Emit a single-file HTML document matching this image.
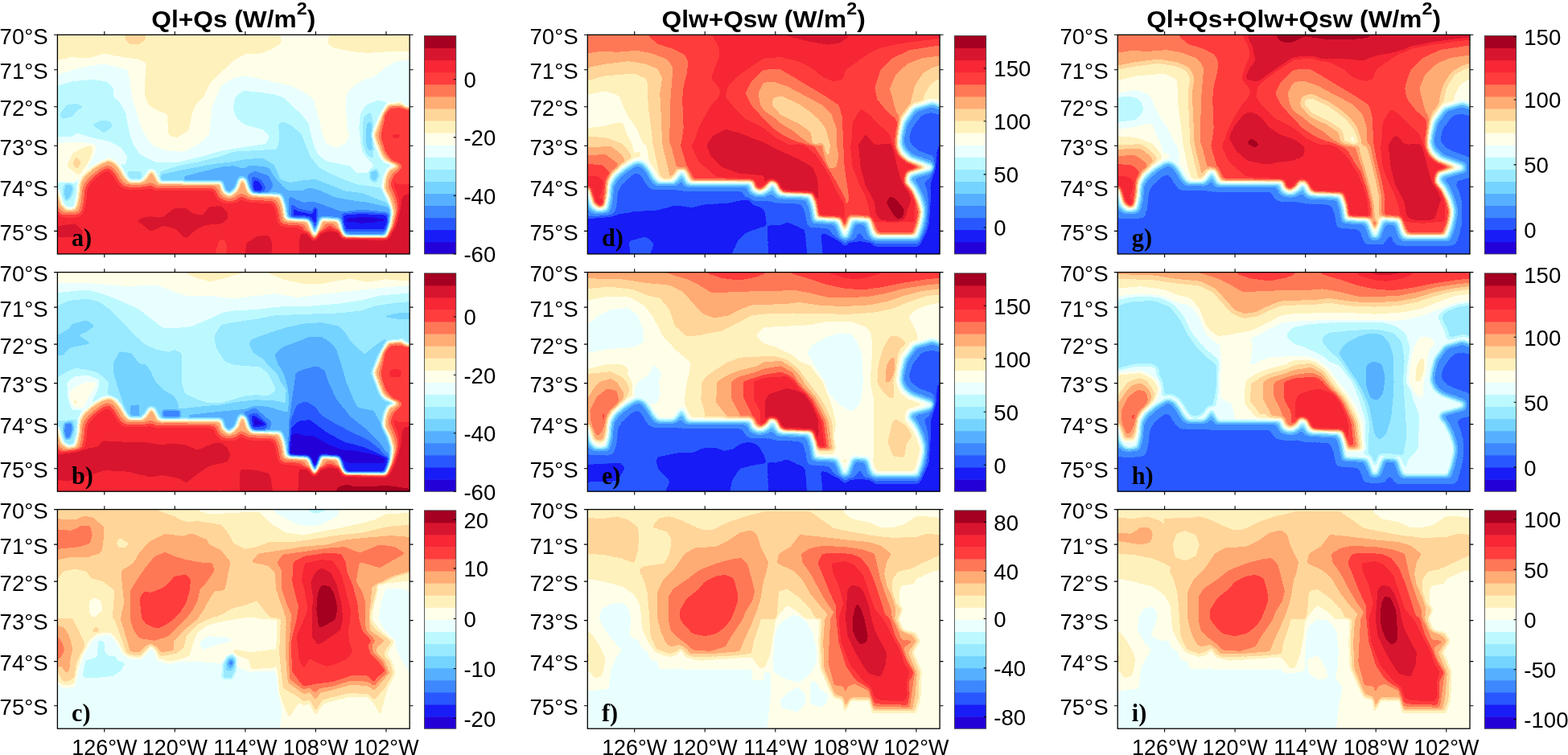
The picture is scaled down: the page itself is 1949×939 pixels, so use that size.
<!DOCTYPE html>
<html lang="en"><head><meta charset="utf-8"><title>Surface heat flux maps</title>
<style>
html,body{margin:0;padding:0;background:#fff;}
body{width:1949px;height:939px;overflow:hidden;}
svg{display:block;}
text{font-family:"Liberation Sans",sans-serif;fill:#000;}
.tk{font-size:28.5px;}
.ti{font-size:29.2px;font-weight:bold;}
.pl{font-family:"Liberation Serif",serif;font-weight:bold;font-size:31.5px;}
.ax{fill:none;stroke:#000;stroke-width:1.3;}
.tm{stroke:#000;stroke-width:1.1;fill:none;}
</style></head><body>
<svg width="1949" height="939" viewBox="0 0 1949 939" role="img" aria-label="Surface heat flux maps">
<defs>
<filter id="cm" filterUnits="userSpaceOnUse" x="-10" y="-10" width="460" height="300" color-interpolation-filters="sRGB">
<feComponentTransfer><feFuncR type="discrete" tableValues="0.1412 0.0941 0.1569 0.2392 0.3373 0.4588 0.6000 0.7373 0.9176 1.0000 1.0000 1.0000 1.0000 1.0000 1.0000 0.9686 0.8471 0.6471"/><feFuncG type="discrete" tableValues="0.0000 0.1098 0.3412 0.5294 0.6902 0.8275 0.9176 0.9765 1.0000 1.0000 0.9451 0.8392 0.6745 0.4706 0.2392 0.1529 0.0824 0.0000"/><feFuncB type="discrete" tableValues="0.8471 0.9686 1.0000 1.0000 1.0000 1.0000 1.0000 1.0000 1.0000 0.9176 0.7373 0.6000 0.4588 0.3373 0.2392 0.2078 0.1843 0.1294"/></feComponentTransfer><feGaussianBlur stdDeviation="0.55"/>
</filter>
<filter id="b1p6_e0" filterUnits="userSpaceOnUse" x="-60" y="-60" width="560" height="400" color-interpolation-filters="sRGB"><feGaussianBlur stdDeviation="1.6"/></filter>
<filter id="b2p0_e0" filterUnits="userSpaceOnUse" x="-60" y="-60" width="560" height="400" color-interpolation-filters="sRGB"><feGaussianBlur stdDeviation="2.0"/></filter>
<filter id="b2p2_e-2" filterUnits="userSpaceOnUse" x="-60" y="-60" width="560" height="400" color-interpolation-filters="sRGB"><feMorphology operator="dilate" radius="2"/><feGaussianBlur stdDeviation="2.2"/></filter>
<filter id="b2p2_e0" filterUnits="userSpaceOnUse" x="-60" y="-60" width="560" height="400" color-interpolation-filters="sRGB"><feGaussianBlur stdDeviation="2.2"/></filter>
<filter id="b2p2_e2" filterUnits="userSpaceOnUse" x="-60" y="-60" width="560" height="400" color-interpolation-filters="sRGB"><feMorphology operator="erode" radius="2"/><feGaussianBlur stdDeviation="2.2"/></filter>
<filter id="b2p4_e0" filterUnits="userSpaceOnUse" x="-60" y="-60" width="560" height="400" color-interpolation-filters="sRGB"><feGaussianBlur stdDeviation="2.4"/></filter>
<filter id="b2p5_e5" filterUnits="userSpaceOnUse" x="-60" y="-60" width="560" height="400" color-interpolation-filters="sRGB"><feMorphology operator="erode" radius="5"/><feGaussianBlur stdDeviation="2.5"/></filter>
<filter id="b3p0_e11" filterUnits="userSpaceOnUse" x="-60" y="-60" width="560" height="400" color-interpolation-filters="sRGB"><feMorphology operator="erode" radius="11"/><feGaussianBlur stdDeviation="3.0"/></filter>
<filter id="b3p0_e12" filterUnits="userSpaceOnUse" x="-60" y="-60" width="560" height="400" color-interpolation-filters="sRGB"><feMorphology operator="erode" radius="12"/><feGaussianBlur stdDeviation="3.0"/></filter>
<filter id="b3p0_e13" filterUnits="userSpaceOnUse" x="-60" y="-60" width="560" height="400" color-interpolation-filters="sRGB"><feMorphology operator="erode" radius="13"/><feGaussianBlur stdDeviation="3.0"/></filter>
<filter id="b3p6_e7" filterUnits="userSpaceOnUse" x="-60" y="-60" width="560" height="400" color-interpolation-filters="sRGB"><feMorphology operator="erode" radius="7"/><feGaussianBlur stdDeviation="3.6"/></filter>
</defs>
<rect width="1949" height="939" fill="#fff"/>
<!-- panel a -->
<svg class="map" x="71.4" y="43.3" width="437.8" height="272.6" viewBox="0 0 437.8 272.6" overflow="hidden">
<g filter="url(#cm)">
<rect x="-60" y="-60" width="560" height="400" fill="#878787"/>
<g filter="url(#b1p6_e0)">
<path fill="#959595" d="M-14.5,-14.5L274.7,-14.5L278.5,10.2L266.9,17.4L252.4,23.3L233.5,23.8L218.9,32.0L203.5,46.5L189.0,61.1L181.7,77.0L171.5,87.2L167.2,98.8L162.8,119.2L148.3,127.9L138.1,125.0L136.6,98.8L125.0,94.5L113.4,87.2L109.0,77.0L109.0,58.1L110.5,34.9L101.8,30.5L81.4,27.6L58.1,23.3L37.8,29.1L17.4,27.6L-14.5,34.9Z"/>
<path fill="#959595" d="M341.6,-14.5L335.8,10.8L342.5,16.0L364.3,20.4L386.1,22.7L407.9,20.9L465.2,20.4L465.2,-14.5Z"/>
<path fill="#a3a3a3" d="M82.9,-14.5L111.9,-14.5L109.0,5.8L101.8,11.6L90.1,11.6L84.3,5.8Z"/>
<path fill="#787878" d="M-14.5,50.9L0.0,49.4L29.1,40.7L58.1,36.3L87.2,43.6L90.1,58.1L93.0,78.5L98.8,98.8L104.7,116.3L110.5,127.9L119.2,138.1L136.6,143.9L157.0,145.4L174.4,136.6L189.0,123.6L191.9,90.1L203.5,64.0L218.9,53.8L233.5,50.9L262.5,57.3L291.6,64.0L306.1,71.2L317.8,79.1L320.7,90.1L325.0,104.7L329.4,123.6L333.8,135.2L346.0,141.0L358.5,135.2L362.8,125.0L359.9,113.4L358.5,87.2L359.1,75.6L364.3,66.9L378.8,56.7L393.4,52.3L407.9,40.7L422.4,32.6L465.2,29.1L465.2,305.3L-14.5,305.3Z"/>
<path fill="#6a6a6a" d="M-14.5,65.4L0.0,64.0L17.4,58.1L43.6,55.8L61.1,58.1L69.8,66.9L69.8,78.5L75.6,81.4L84.3,95.9L87.2,110.5L90.1,125.0L94.5,136.6L101.8,148.3L122.1,158.5L151.2,158.5L180.3,151.2L203.5,144.5L232.6,139.6L259.6,135.8L264.0,125.6L255.3,117.7L233.5,111.9L223.3,104.7L218.9,93.0L219.5,82.9L221.8,77.0L230.6,69.8L248.0,71.2L269.8,74.1L281.4,78.5L291.6,88.7L303.2,98.8L312.0,110.5L314.9,123.6L317.8,135.2L323.6,148.9L335.2,157.6L364.3,163.4L371.6,172.1L386.1,172.1L393.4,161.9L386.1,154.7L378.8,144.5L377.4,135.8L375.0,116.3L376.5,98.8L383.8,87.2L398.3,81.4L412.8,84.3L465.2,87.2L465.2,305.3L-14.5,305.3Z"/>
<path fill="#787878" d="M-14.5,126.5L0.0,126.5L17.4,126.5L24.7,122.1L43.6,127.9L64.0,132.3L78.5,139.6L87.2,151.2L84.3,162.8L72.7,158.5L58.1,154.1L43.6,162.8L29.1,180.3L-14.5,186.1Z"/>
<path fill="#878787" d="M-14.5,135.2L17.4,133.7L34.9,134.3L48.0,136.6L46.5,148.3L36.3,165.7L27.6,178.8L17.4,186.1L5.8,181.7L-14.5,186.1Z"/>
<path fill="#959595" d="M11.6,163.4L18.9,147.4L29.1,141.6L42.2,137.2L43.6,144.5L40.7,154.7L34.9,164.8L26.2,175.0L17.4,167.8Z"/>
<path fill="#a3a3a3" d="M18.9,160.5L23.3,151.8L29.1,157.6L24.7,167.8Z"/>
<path fill="#4e4e4e" d="M8.7,186.1L17.4,183.7L19.8,191.9L16.0,203.5L10.2,207.0L7.3,197.7Z"/>
<path fill="#5c5c5c" d="M2.9,98.8L11.6,87.2L23.3,85.8L33.4,89.5L24.7,93.0L18.9,101.8L5.8,104.7Z"/>
<path fill="#5c5c5c" d="M43.6,111.9L55.2,106.1L65.4,107.6L68.3,113.4L58.1,122.1L49.4,116.3Z"/>
<path fill="#5c5c5c" d="M87.2,170.1L104.7,170.1L104.7,186.1L87.2,186.1Z"/>
<path fill="#5c5c5c" d="M127.9,170.1L151.2,162.8L174.4,158.5L203.5,151.2L218.9,145.4L247.1,143.9L273.3,142.5L276.2,127.9L274.7,111.9L280.0,107.6L291.6,113.4L303.2,123.6L308.2,136.6L314.0,151.2L325.6,165.7L348.9,177.3L372.1,186.1L392.5,189.0L405.0,191.0L415.8,203.5L415.8,261.7L127.9,261.7Z"/>
<path fill="#4e4e4e" d="M127.9,173.9L151.2,168.6L174.4,164.3L197.7,159.9L218.9,157.6L233.5,154.7L255.3,153.2L269.8,161.9L277.1,179.4L288.7,183.7L306.1,180.8L320.7,179.4L335.2,185.2L357.0,193.9L378.8,196.8L400.6,205.5L415.8,211.4L415.8,261.7L127.9,261.7Z"/>
<path fill="#404040" d="M157.0,175.9L174.4,171.5L203.5,164.3L218.9,162.8L230.6,166.3L240.7,161.9L262.5,164.8L269.8,176.5L280.0,188.1L287.2,193.9L303.2,193.9L313.4,189.6L327.9,193.9L342.5,201.2L364.3,205.5L386.1,208.5L405.0,212.8L415.8,215.1L415.8,261.7L157.0,261.7Z"/>
<path fill="#323232" d="M236.4,173.6L245.1,169.2L262.5,175.0L268.9,187.5L261.7,197.7L242.2,197.7L236.9,186.1Z"/>
<path fill="#323232" d="M287.8,200.6L306.1,208.5L317.8,207.0L342.5,215.7L354.1,220.1L378.8,217.2L407.9,220.1L415.8,223.9L415.8,261.7L287.8,261.7Z"/>
<path fill="#1c1c1c" d="M242.2,176.5L252.4,180.8L258.8,190.4L252.9,197.7L243.6,195.4Z"/>
<path fill="#1c1c1c" d="M290.7,210.8L299.5,216.6L319.8,221.0L319.8,232.6L290.7,232.6Z"/>
<path fill="#1c1c1c" d="M354.1,222.4L378.0,221.0L409.4,222.4L412.8,232.6L409.4,244.2L355.6,244.2Z"/>
<path fill="#0e0e0e" d="M243.6,183.2L248.6,184.6L250.6,191.9L244.2,192.5Z"/>
<path fill="#0e0e0e" d="M356.2,226.2L378.0,224.4L408.5,226.2L408.5,234.0L378.0,236.1L357.0,234.9Z"/>
<path fill="#0e0e0e" d="M318.4,215.7L322.1,215.7L321.6,235.5L319.8,241.3Z"/>
<path fill="#060606" d="M373.6,228.5L392.5,227.9L393.9,232.0L375.0,232.6Z"/>
<path fill="#5c5c5c" d="M380.9,101.8L389.6,95.9L392.5,110.5L391.0,125.0L392.5,139.6L392.5,154.1L383.8,148.3L379.4,133.7L379.4,116.3Z"/>
<path fill="#474747" d="M385.2,110.5L389.6,107.6L391.0,125.0L391.0,145.4L385.2,139.6L383.8,125.0Z"/>
<path fill="#4e4e4e" d="M388.1,170.1L396.9,167.2L399.8,174.4L395.4,183.7L389.0,180.3Z"/>
</g>
<g filter="url(#b2p2_e0)">
<path fill="#b1b1b1" d="M-23.3,189.0L0.0,192.5L5.8,211.4L13.1,217.2L21.8,215.7L25.6,201.2L27.0,183.7L32.0,175.0L43.6,164.8L55.2,157.6L64.0,154.7L72.7,159.0L78.5,166.3L84.3,176.5L90.1,182.3L104.7,182.3L110.5,176.5L114.8,169.2L119.2,169.2L123.6,177.9L126.5,183.7L203.5,183.7L206.4,193.9L213.7,199.7L222.4,191.9L227.6,177.9L233.5,180.8L237.8,193.9L242.2,198.3L277.1,199.7L281.4,211.4L284.3,228.8L312.0,230.3L316.3,240.4L319.8,250.6L323.6,240.4L327.9,228.8L349.8,230.3L354.1,244.8L358.5,250.6L407.9,250.6L412.8,237.5L416.6,220.1L412.3,205.5L405.0,191.0L407.0,177.3L411.4,167.2L423.0,162.2L407.0,157.0L402.1,150.3L396.9,136.6L392.5,125.0L400.6,104.7L410.8,85.8L429.7,84.9L436.1,110.5L465.2,116.3L465.2,305.3L-23.3,305.3Z"/>
</g>
<g filter="url(#b3p6_e7)">
<path fill="#dcdcdc" d="M-23.3,189.0L0.0,192.5L5.8,211.4L13.1,217.2L21.8,215.7L25.6,201.2L27.0,183.7L32.0,175.0L43.6,164.8L55.2,157.6L64.0,154.7L72.7,159.0L78.5,166.3L84.3,176.5L90.1,182.3L104.7,182.3L110.5,176.5L114.8,169.2L119.2,169.2L123.6,177.9L126.5,183.7L203.5,183.7L206.4,193.9L213.7,199.7L222.4,191.9L227.6,177.9L233.5,180.8L237.8,193.9L242.2,198.3L277.1,199.7L281.4,211.4L284.3,228.8L312.0,230.3L316.3,240.4L319.8,250.6L323.6,240.4L327.9,228.8L349.8,230.3L354.1,244.8L358.5,250.6L407.9,250.6L412.8,237.5L416.6,220.1L412.3,205.5L405.0,191.0L407.0,177.3L411.4,167.2L423.0,162.2L407.0,157.0L402.1,150.3L396.9,136.6L392.5,125.0L400.6,104.7L410.8,85.8L429.7,84.9L436.1,110.5L465.2,116.3L465.2,305.3L-23.3,305.3Z"/>
</g>
<g filter="url(#b2p0_e0)">
<path fill="#cdcdcd" d="M405.6,98.8L412.8,90.7L428.8,89.5L465.2,93.0L465.2,186.1L421.6,186.1L418.7,174.4L430.3,162.8L415.8,158.5L407.0,145.4L402.7,127.9Z"/>
<path fill="#dcdcdc" d="M415.2,123.6L426.8,123.6L426.8,128.5L415.2,128.5Z"/>
<path fill="#eaeaea" d="M97.4,230.3L113.4,225.9L130.8,227.4L145.4,215.7L159.9,215.7L168.6,223.0L181.7,224.4L187.5,214.3L203.5,212.8L210.8,220.1L212.2,228.8L203.5,234.6L186.1,236.1L174.4,240.4L159.9,253.5L145.4,240.4L130.8,237.5L116.3,244.8L107.6,237.5Z"/>
<path fill="#eaeaea" d="M-14.5,240.4L21.8,234.6L33.4,246.3L29.1,250.6L-14.5,252.1Z"/>
<path fill="#eaeaea" d="M233.5,276.2L234.9,259.3L248.0,250.6L262.5,249.2L266.9,259.3L265.4,276.2Z"/>
<path fill="#eaeaea" d="M300.3,276.2L301.8,246.3L312.0,246.3L319.2,256.4L326.5,244.8L349.8,243.3L354.1,252.1L409.4,253.5L419.5,237.5L425.3,217.2L429.7,199.7L465.2,191.9L465.2,276.2Z"/>
<path fill="#cdcdcd" d="M194.8,276.2L200.6,255.8L206.4,253.5L210.8,261.7L209.3,276.2Z"/>
</g>
</g>
</svg>
<rect class="ax" x="71.4" y="43.3" width="437.8" height="272.6"/>
<path class="tm" d="M129.8,43.3 v-4.4 M129.8,315.9 v4.4 M217.3,43.3 v-4.4 M217.3,315.9 v4.4 M304.9,43.3 v-4.4 M304.9,315.9 v4.4 M392.4,43.3 v-4.4 M392.4,315.9 v4.4 M480.0,43.3 v-4.4 M480.0,315.9 v4.4 M71.4,43.3 h-4.4 M509.2,43.3 h4.4 M71.4,86.8 h-4.4 M509.2,86.8 h4.4 M71.4,132.8 h-4.4 M509.2,132.8 h4.4 M71.4,181.3 h-4.4 M509.2,181.3 h4.4 M71.4,232.3 h-4.4 M509.2,232.3 h4.4 M71.4,287.4 h-4.4 M509.2,287.4 h4.4 "/>
<text class="tk" transform="translate(59.8 54.9) scale(0.97 1)" text-anchor="end">70°S</text>
<text class="tk" transform="translate(59.8 98.4) scale(0.97 1)" text-anchor="end">71°S</text>
<text class="tk" transform="translate(59.8 144.4) scale(0.97 1)" text-anchor="end">72°S</text>
<text class="tk" transform="translate(59.8 192.9) scale(0.97 1)" text-anchor="end">73°S</text>
<text class="tk" transform="translate(59.8 243.9) scale(0.97 1)" text-anchor="end">74°S</text>
<text class="tk" transform="translate(59.8 299.0) scale(0.97 1)" text-anchor="end">75°S</text>
<text class="ti" transform="translate(290.3 33.9) scale(1.085 1)" text-anchor="middle">Ql+Qs (W/m<tspan dy="-16.2" font-size="21.5px">2</tspan><tspan dy="16.2">)</tspan></text>
<text class="pl" transform="translate(89.0 306.3) scale(0.96 1)">a)</text>
<rect x="527.5" y="300.83" width="39.3" height="15.07" fill="rgb(36,0,216)"/>
<rect x="527.5" y="285.76" width="39.3" height="15.47" fill="rgb(24,28,247)"/>
<rect x="527.5" y="270.68" width="39.3" height="15.47" fill="rgb(40,87,255)"/>
<rect x="527.5" y="255.61" width="39.3" height="15.47" fill="rgb(61,135,255)"/>
<rect x="527.5" y="240.54" width="39.3" height="15.47" fill="rgb(86,176,255)"/>
<rect x="527.5" y="225.47" width="39.3" height="15.47" fill="rgb(117,211,255)"/>
<rect x="527.5" y="210.39" width="39.3" height="15.47" fill="rgb(153,234,255)"/>
<rect x="527.5" y="195.32" width="39.3" height="15.47" fill="rgb(188,249,255)"/>
<rect x="527.5" y="180.25" width="39.3" height="15.47" fill="rgb(234,255,255)"/>
<rect x="527.5" y="165.18" width="39.3" height="15.47" fill="rgb(255,255,234)"/>
<rect x="527.5" y="150.11" width="39.3" height="15.47" fill="rgb(255,241,188)"/>
<rect x="527.5" y="135.03" width="39.3" height="15.47" fill="rgb(255,214,153)"/>
<rect x="527.5" y="119.96" width="39.3" height="15.47" fill="rgb(255,172,117)"/>
<rect x="527.5" y="104.89" width="39.3" height="15.47" fill="rgb(255,120,86)"/>
<rect x="527.5" y="89.82" width="39.3" height="15.47" fill="rgb(255,61,61)"/>
<rect x="527.5" y="74.74" width="39.3" height="15.47" fill="rgb(247,39,53)"/>
<rect x="527.5" y="59.67" width="39.3" height="15.47" fill="rgb(216,21,47)"/>
<rect x="527.5" y="44.60" width="39.3" height="15.47" fill="rgb(165,0,33)"/>
<rect x="527.5" y="44.6" width="39.3" height="271.3" fill="none" stroke="#333" stroke-width="0.8"/>
<text class="tk" transform="translate(576.4 109.1) scale(0.97 1)">0</text>
<text class="tk" transform="translate(576.4 181.3) scale(0.97 1)">-20</text>
<text class="tk" transform="translate(576.4 253.8) scale(0.97 1)">-40</text>
<text class="tk" transform="translate(576.4 326.3) scale(0.97 1)">-60</text>
<path class="tm" d="M566.8,98.7 h-3 M566.8,170.9 h-3 M566.8,243.4 h-3 M566.8,315.9 h-3 "/>
<!-- panel b -->
<svg class="map" x="71.4" y="338.6" width="437.8" height="272.6" viewBox="0 0 437.8 272.6" overflow="hidden">
<g filter="url(#cm)">
<rect x="-60" y="-60" width="560" height="400" fill="#878787"/>
<g filter="url(#b1p6_e0)">
<path fill="#959595" d="M157.0,-14.5L159.9,1.5L174.4,7.3L189.0,11.6L203.5,8.7L218.1,4.4L232.6,0.0L247.1,-14.5Z"/>
<path fill="#959595" d="M258.8,-14.5L262.5,1.5L284.3,10.2L306.1,14.5L327.9,14.5L349.8,10.2L364.3,8.1L386.1,12.2L407.9,8.7L437.0,11.0L465.2,11.6L465.2,-14.5Z"/>
<path fill="#787878" d="M-14.5,13.1L0.0,13.1L43.6,14.0L87.2,17.4L123.6,16.0L145.4,24.7L159.9,29.1L189.0,29.1L218.9,32.6L248.0,29.1L269.8,26.7L298.9,31.4L335.2,26.7L378.8,21.8L407.9,18.9L465.2,14.5L465.2,305.3L-14.5,305.3Z"/>
<path fill="#6a6a6a" d="M-14.5,26.2L0.0,25.6L36.3,21.8L58.1,27.6L80.0,36.3L101.8,46.5L116.3,58.1L130.8,69.2L145.4,69.8L167.2,67.5L189.0,58.1L203.5,50.9L218.9,48.0L248.0,46.5L277.1,43.0L306.1,43.0L349.8,39.2L378.8,34.9L400.6,29.1L465.2,23.3L465.2,305.3L-14.5,305.3Z"/>
<path fill="#5c5c5c" d="M-14.5,42.2L0.0,42.2L14.5,35.5L36.3,33.4L50.9,36.3L65.4,46.5L80.0,61.1L94.5,77.0L109.0,90.1L123.6,96.5L138.1,99.4L145.4,96.5L154.1,100.3L154.7,116.3L154.1,136.6L158.5,151.2L174.4,158.5L189.0,162.8L203.5,162.8L218.1,158.5L232.6,154.1L247.1,152.6L261.7,154.1L271.8,146.8L267.5,136.6L262.5,126.5L252.4,117.7L233.5,116.3L218.9,114.8L207.9,110.5L197.7,94.5L194.8,80.0L203.5,65.4L218.9,62.5L248.0,58.1L269.8,53.8L306.1,52.3L349.8,50.9L378.8,48.0L393.4,42.2L422.4,37.8L465.2,34.9L465.2,305.3L-14.5,305.3Z"/>
<path fill="#4e4e4e" d="M-14.5,78.5L0.0,78.5L14.5,69.8L18.9,64.0L36.3,59.6L46.5,66.3L36.3,74.1L26.2,78.5L42.2,88.7L21.8,93.0L14.5,94.5L7.3,103.2L-14.5,104.7Z"/>
<path fill="#4e4e4e" d="M69.8,111.9L77.0,98.3L91.6,100.3L101.8,113.4L110.5,114.8L116.3,123.6L122.1,136.6L130.8,145.4L145.4,154.1L151.2,165.7L145.4,174.4L127.9,186.1L87.2,186.1L81.4,162.8L75.6,145.4L69.8,126.5Z"/>
<path fill="#4e4e4e" d="M237.8,88.7L242.2,82.9L262.5,75.6L284.3,68.3L306.1,64.0L327.9,62.5L349.8,66.9L358.5,75.6L364.3,85.8L381.7,101.8L396.3,90.1L406.4,82.9L424.5,81.4L424.5,261.7L127.9,261.7L127.9,173.0L151.2,170.1L174.4,167.2L203.5,164.3L221.0,161.4L247.1,158.5L273.3,159.9L283.5,162.8L284.3,145.4L277.1,136.6L274.2,127.9L262.5,116.3L255.3,107.6L243.6,100.3Z"/>
<path fill="#404040" d="M269.8,101.8L280.0,93.0L298.9,85.8L313.4,80.0L327.9,80.0L339.6,87.2L346.8,95.9L352.7,113.4L359.1,136.6L367.8,157.6L373.0,167.8L393.4,172.1L400.6,186.7L424.5,203.5L424.5,261.7L162.8,261.7L162.8,177.3L189.0,174.4L218.9,171.5L232.6,170.1L247.1,165.7L261.7,167.2L276.2,171.5L286.4,174.4L287.8,157.0L286.4,145.4L284.3,136.6L280.0,123.6L274.2,114.8Z"/>
<path fill="#323232" d="M294.5,136.6L296.0,125.0L306.1,120.7L322.1,116.3L332.3,122.1L336.7,135.8L346.8,157.6L364.3,179.4L386.1,196.8L400.6,211.4L407.9,223.0L424.5,232.6L424.5,261.7L287.8,261.7L287.8,186.1L291.6,157.0Z"/>
<path fill="#323232" d="M230.6,175.0L245.1,167.8L266.9,186.7L261.7,200.6L238.4,200.6Z"/>
<path fill="#232323" d="M297.4,164.8L309.1,160.5L320.7,167.8L327.9,177.9L342.5,186.7L364.3,198.3L386.1,208.5L400.6,220.1L407.9,228.8L424.5,232.6L424.5,261.7L287.8,261.7L289.3,186.1Z"/>
<path fill="#232323" d="M236.9,177.3L247.1,174.4L261.7,189.0L255.8,199.2L241.3,197.7Z"/>
<path fill="#151515" d="M290.2,193.9L300.3,185.2L313.4,183.7L323.6,191.0L335.2,199.7L357.0,211.4L378.8,217.2L393.4,223.0L406.4,230.3L424.5,232.6L424.5,261.7L287.8,261.7Z"/>
<path fill="#070707" d="M289.3,205.0L296.0,199.7L306.1,203.5L317.8,203.5L339.6,215.7L354.1,221.0L371.6,222.4L393.4,226.8L407.0,230.3L407.0,236.9L360.5,236.9L353.2,232.6L319.8,241.3L287.8,232.6Z"/>
<path fill="#0b0b0b" d="M242.2,177.9L253.8,185.2L259.6,189.6L243.6,192.5Z"/>
<path fill="#323232" d="M8.7,187.5L18.0,186.1L19.8,194.8L16.0,207.0L10.2,207.9L7.3,197.7Z"/>
<path fill="#6a6a6a" d="M-14.5,127.9L0.0,130.8L11.6,123.6L21.8,119.2L34.9,120.7L48.0,123.6L58.1,130.8L64.0,136.6L62.5,151.2L55.2,162.8L43.6,174.4L29.1,183.2L-14.5,186.1Z"/>
<path fill="#787878" d="M11.6,136.6L21.8,129.4L37.8,127.9L52.3,133.7L50.9,145.4L43.6,159.9L32.0,171.5L17.4,171.5L13.1,157.0Z"/>
<path fill="#878787" d="M14.5,150.3L21.8,143.0L36.3,135.8L48.0,136.6L46.5,144.5L39.2,154.7L33.4,167.8L21.8,169.2L16.0,160.5Z"/>
<path fill="#959595" d="M19.8,159.3L23.3,157.9L25.0,162.8L21.5,164.6Z"/>
<path fill="#404040" d="M90.1,165.7L101.8,164.3L102.3,178.8L90.7,178.8Z"/>
<path fill="#323232" d="M130.8,171.5L152.6,171.5L152.6,181.7L130.8,181.7Z"/>
<path fill="#4e4e4e" d="M403.5,55.2L421.6,50.9L465.2,48.0L465.2,59.6L421.6,58.1Z"/>
</g>
<g filter="url(#b2p2_e0)">
<path fill="#b1b1b1" d="M-23.3,189.0L0.0,192.5L5.8,211.4L13.1,217.2L21.8,215.7L25.6,201.2L27.0,183.7L32.0,175.0L43.6,164.8L55.2,157.6L64.0,154.7L72.7,159.0L78.5,166.3L84.3,176.5L90.1,182.3L104.7,182.3L110.5,176.5L114.8,169.2L119.2,169.2L123.6,177.9L126.5,183.7L203.5,183.7L206.4,193.9L213.7,199.7L222.4,191.9L227.6,177.9L233.5,180.8L237.8,193.9L242.2,198.3L277.1,199.7L281.4,211.4L284.3,228.8L312.0,230.3L316.3,240.4L319.8,250.6L323.6,240.4L327.9,228.8L349.8,230.3L354.1,244.8L358.5,250.6L407.9,250.6L412.8,237.5L416.6,220.1L412.3,205.5L405.0,191.0L407.0,177.3L411.4,167.2L423.0,162.2L407.0,157.0L402.1,150.3L396.9,136.6L392.5,125.0L400.6,104.7L410.8,85.8L429.7,84.9L436.1,110.5L465.2,116.3L465.2,305.3L-23.3,305.3Z"/>
</g>
<g filter="url(#b3p6_e7)">
<path fill="#dcdcdc" d="M-23.3,189.0L0.0,192.5L5.8,211.4L13.1,217.2L21.8,215.7L25.6,201.2L27.0,183.7L32.0,175.0L43.6,164.8L55.2,157.6L64.0,154.7L72.7,159.0L78.5,166.3L84.3,176.5L90.1,182.3L104.7,182.3L110.5,176.5L114.8,169.2L119.2,169.2L123.6,177.9L126.5,183.7L203.5,183.7L206.4,193.9L213.7,199.7L222.4,191.9L227.6,177.9L233.5,180.8L237.8,193.9L242.2,198.3L277.1,199.7L281.4,211.4L284.3,228.8L312.0,230.3L316.3,240.4L319.8,250.6L323.6,240.4L327.9,228.8L349.8,230.3L354.1,244.8L358.5,250.6L407.9,250.6L412.8,237.5L416.6,220.1L412.3,205.5L405.0,191.0L407.0,177.3L411.4,167.2L423.0,162.2L407.0,157.0L402.1,150.3L396.9,136.6L392.5,125.0L400.6,104.7L410.8,85.8L429.7,84.9L436.1,110.5L465.2,116.3L465.2,305.3L-23.3,305.3Z"/>
</g>
<g filter="url(#b2p0_e0)">
<path fill="#cdcdcd" d="M405.6,98.8L412.8,90.7L428.8,89.5L465.2,93.0L465.2,186.1L421.6,186.1L418.7,174.4L430.3,162.8L415.8,158.5L407.0,145.4L402.7,127.9Z"/>
<path fill="#dcdcdc" d="M412.8,120.7L427.4,120.7L427.4,130.8L412.8,130.8Z"/>
<path fill="#eaeaea" d="M-14.5,228.8L26.2,221.5L50.9,217.2L55.2,209.9L87.2,211.4L109.0,211.4L130.8,215.1L145.4,212.8L159.9,215.1L174.4,221.5L186.1,215.7L200.6,211.4L210.8,217.2L215.1,228.8L210.8,236.1L189.0,240.4L174.4,250.6L159.9,262.2L152.6,256.4L130.8,252.1L116.3,255.0L87.2,247.7L58.1,246.3L36.3,253.5L14.5,259.3L-14.5,257.9Z"/>
<path fill="#eaeaea" d="M226.2,276.2L227.6,244.8L248.0,246.3L264.0,250.6L268.3,276.2Z"/>
<path fill="#eaeaea" d="M298.9,276.2L300.3,244.8L312.0,243.3L319.2,253.5L326.5,243.3L349.8,241.9L355.6,252.1L409.4,253.5L418.1,237.5L425.3,217.2L429.7,193.9L465.2,183.2L465.2,276.2Z"/>
<path fill="#f8f8f8" d="M342.5,276.2L349.8,266.6L362.8,263.7L365.7,266.6L393.4,266.6L407.9,265.2L465.2,273.3L465.2,276.2Z"/>
<path fill="#cdcdcd" d="M200.6,276.2L202.9,258.8L205.3,276.2Z"/>
</g>
</g>
</svg>
<rect class="ax" x="71.4" y="338.6" width="437.8" height="272.6"/>
<path class="tm" d="M129.8,338.6 v-4.4 M129.8,611.2 v4.4 M217.3,338.6 v-4.4 M217.3,611.2 v4.4 M304.9,338.6 v-4.4 M304.9,611.2 v4.4 M392.4,338.6 v-4.4 M392.4,611.2 v4.4 M480.0,338.6 v-4.4 M480.0,611.2 v4.4 M71.4,338.6 h-4.4 M509.2,338.6 h4.4 M71.4,382.1 h-4.4 M509.2,382.1 h4.4 M71.4,428.1 h-4.4 M509.2,428.1 h4.4 M71.4,476.6 h-4.4 M509.2,476.6 h4.4 M71.4,527.6 h-4.4 M509.2,527.6 h4.4 M71.4,582.7 h-4.4 M509.2,582.7 h4.4 "/>
<text class="tk" transform="translate(59.8 350.2) scale(0.97 1)" text-anchor="end">70°S</text>
<text class="tk" transform="translate(59.8 393.7) scale(0.97 1)" text-anchor="end">71°S</text>
<text class="tk" transform="translate(59.8 439.7) scale(0.97 1)" text-anchor="end">72°S</text>
<text class="tk" transform="translate(59.8 488.2) scale(0.97 1)" text-anchor="end">73°S</text>
<text class="tk" transform="translate(59.8 539.2) scale(0.97 1)" text-anchor="end">74°S</text>
<text class="tk" transform="translate(59.8 594.3) scale(0.97 1)" text-anchor="end">75°S</text>
<text class="pl" transform="translate(89.0 601.6) scale(0.96 1)">b)</text>
<rect x="527.5" y="596.13" width="39.3" height="15.07" fill="rgb(36,0,216)"/>
<rect x="527.5" y="581.06" width="39.3" height="15.47" fill="rgb(24,28,247)"/>
<rect x="527.5" y="565.98" width="39.3" height="15.47" fill="rgb(40,87,255)"/>
<rect x="527.5" y="550.91" width="39.3" height="15.47" fill="rgb(61,135,255)"/>
<rect x="527.5" y="535.84" width="39.3" height="15.47" fill="rgb(86,176,255)"/>
<rect x="527.5" y="520.77" width="39.3" height="15.47" fill="rgb(117,211,255)"/>
<rect x="527.5" y="505.69" width="39.3" height="15.47" fill="rgb(153,234,255)"/>
<rect x="527.5" y="490.62" width="39.3" height="15.47" fill="rgb(188,249,255)"/>
<rect x="527.5" y="475.55" width="39.3" height="15.47" fill="rgb(234,255,255)"/>
<rect x="527.5" y="460.48" width="39.3" height="15.47" fill="rgb(255,255,234)"/>
<rect x="527.5" y="445.41" width="39.3" height="15.47" fill="rgb(255,241,188)"/>
<rect x="527.5" y="430.33" width="39.3" height="15.47" fill="rgb(255,214,153)"/>
<rect x="527.5" y="415.26" width="39.3" height="15.47" fill="rgb(255,172,117)"/>
<rect x="527.5" y="400.19" width="39.3" height="15.47" fill="rgb(255,120,86)"/>
<rect x="527.5" y="385.12" width="39.3" height="15.47" fill="rgb(255,61,61)"/>
<rect x="527.5" y="370.04" width="39.3" height="15.47" fill="rgb(247,39,53)"/>
<rect x="527.5" y="354.97" width="39.3" height="15.47" fill="rgb(216,21,47)"/>
<rect x="527.5" y="339.90" width="39.3" height="15.47" fill="rgb(165,0,33)"/>
<rect x="527.5" y="339.9" width="39.3" height="271.3" fill="none" stroke="#333" stroke-width="0.8"/>
<text class="tk" transform="translate(576.4 404.4) scale(0.97 1)">0</text>
<text class="tk" transform="translate(576.4 476.6) scale(0.97 1)">-20</text>
<text class="tk" transform="translate(576.4 549.1) scale(0.97 1)">-40</text>
<text class="tk" transform="translate(576.4 621.6) scale(0.97 1)">-60</text>
<path class="tm" d="M566.8,394.0 h-3 M566.8,466.2 h-3 M566.8,538.7 h-3 M566.8,611.2 h-3 "/>
<!-- panel c -->
<svg class="map" x="71.4" y="633.6" width="437.8" height="272.6" viewBox="0 0 437.8 272.6" overflow="hidden">
<g filter="url(#cm)">
<rect x="-60" y="-60" width="560" height="400" fill="#a3a3a3"/>
<g filter="url(#b1p6_e0)">
<path fill="#959595" d="M125.0,-14.5L125.0,1.5L145.4,8.7L159.9,16.0L174.4,14.5L203.5,18.9L210.8,27.6L219.2,42.2L233.5,49.4L248.0,46.5L262.5,40.7L291.6,40.7L320.7,36.3L349.8,32.0L378.8,29.1L407.9,21.8L438.1,18.9L465.2,17.4L465.2,-14.5Z"/>
<path fill="#878787" d="M174.4,-14.5L174.4,1.5L189.0,5.8L219.2,4.4L250.9,2.9L266.9,18.9L284.3,29.1L306.1,32.0L327.9,27.6L349.8,23.3L371.6,18.9L393.4,13.1L407.9,5.8L438.1,4.4L465.2,4.4L465.2,-14.5Z"/>
<path fill="#787878" d="M269.8,-14.5L269.8,2.9L284.3,11.6L298.9,18.9L313.4,20.9L327.9,18.9L342.5,11.6L349.8,4.4L349.8,-14.5Z"/>
<path fill="#6a6a6a" d="M312.0,-14.5L312.0,1.5L319.8,5.2L333.8,1.5L333.8,-14.5Z"/>
<path fill="#b1b1b1" d="M-14.5,11.6L0.0,11.6L21.8,13.1L32.0,8.7L43.6,9.3L58.1,21.8L56.7,43.6L53.8,53.8L36.3,59.6L14.5,59.6L0.0,62.5L-14.5,62.5Z"/>
<path fill="#bfbfbf" d="M-14.5,24.7L0.0,24.7L17.4,26.2L29.1,20.4L40.7,20.4L43.6,32.0L40.7,42.2L29.1,46.5L0.0,49.4L-14.5,49.4Z"/>
<path fill="#959595" d="M73.3,42.2L77.0,34.9L88.7,42.2L85.8,47.1L75.6,47.1Z"/>
<path fill="#959595" d="M-14.5,87.2L0.0,87.2L7.3,77.0L21.8,74.1L36.3,77.0L42.2,85.8L55.2,88.7L71.2,100.3L69.8,116.3L68.3,136.6L71.2,135.8L75.6,150.3L81.4,164.8L85.8,179.4L101.8,182.3L110.5,175.0L116.3,170.7L123.6,176.5L127.9,182.3L146.8,179.4L157.0,172.1L159.9,157.6L174.4,143.0L189.0,135.8L203.5,130.8L219.2,122.1L233.5,119.2L248.0,113.4L255.3,123.6L266.9,136.6L277.7,135.8L275.6,179.4L280.6,222.4L300.3,234.0L306.1,239.0L313.4,236.1L320.7,250.6L329.4,236.9L342.5,233.2L364.3,228.2L386.1,229.7L393.4,236.9L407.0,222.4L417.5,203.5L412.8,189.0L405.6,181.7L407.0,175.9L415.2,164.3L396.9,150.3L384.6,135.8L388.1,127.9L393.4,116.3L399.2,98.8L407.9,88.7L419.5,82.9L438.1,78.5L465.2,77.0L465.2,290.7L-14.5,290.7Z"/>
<path fill="#878787" d="M-14.5,215.1L0.0,213.7L7.3,218.6L20.4,217.5L23.8,200.6L29.1,183.2L39.2,163.4L49.4,154.1L66.3,152.6L75.0,163.4L82.0,177.9L91.6,183.7L103.8,183.7L111.9,174.4L116.3,169.2L122.1,175.0L125.6,185.2L139.0,189.0L151.8,186.7L164.3,181.7L168.6,165.7L174.4,152.6L186.1,143.9L203.5,139.6L219.2,136.6L240.7,133.7L255.8,136.6L270.4,135.8L273.3,135.8L271.8,179.4L274.7,226.8L287.8,258.8L300.3,239.9L306.1,244.2L313.4,241.3L320.7,255.8L330.9,241.3L364.3,232.6L386.1,234.0L393.4,241.3L401.2,255.8L409.9,223.9L420.1,203.5L415.8,189.0L409.9,181.7L411.4,175.9L418.7,164.3L401.2,150.3L390.5,135.8L393.4,116.3L397.7,98.8L397.7,93.0L438.1,88.7L465.2,87.2L465.2,290.7L-14.5,290.7Z"/>
<path fill="#787878" d="M-14.5,217.2L0.0,217.2L7.3,223.0L21.8,221.5L26.2,201.2L32.0,183.7L42.2,164.8L50.9,157.6L65.4,156.1L72.7,164.8L80.0,179.4L90.1,186.7L104.7,186.7L113.4,176.5L116.3,172.1L120.7,177.9L123.6,188.1L138.1,192.5L152.6,189.6L167.2,189.0L189.0,190.4L203.5,191.9L218.9,193.3L238.4,202.1L270.4,200.6L273.3,209.3L274.7,226.8L279.1,250.0L276.2,273.0L276.2,290.7L-14.5,290.7Z"/>
<path fill="#787878" d="M399.2,136.6L402.1,116.3L407.9,98.8L429.7,98.8L438.1,101.8L465.2,101.8L465.2,209.3L438.1,203.5L427.4,186.1L421.6,174.4L420.1,164.3L407.0,150.3Z"/>
<path fill="#787878" d="M177.3,164.8L186.1,157.6L210.8,159.0L218.1,163.4L196.2,169.2L178.8,175.0Z"/>
<path fill="#6a6a6a" d="M31.4,208.5L34.9,188.1L49.4,183.7L50.9,163.4L58.1,164.3L58.1,176.5L64.0,182.3L72.7,182.3L74.1,188.1L84.3,190.4L78.5,201.2L69.8,207.0L43.6,209.9Z"/>
<path fill="#5c5c5c" d="M205.0,209.9L205.8,191.0L210.8,182.3L218.1,179.7L223.3,186.1L221.5,200.6L216.6,210.8Z"/>
<path fill="#474747" d="M209.9,200.6L210.8,187.5L216.6,183.7L220.4,189.0L218.1,199.2Z"/>
<path fill="#323232" d="M212.8,193.3L214.0,187.5L218.1,186.7L218.6,191.9L215.7,195.4Z"/>
<path fill="#959595" d="M218.9,173.6L240.7,177.9L272.7,173.6L277.1,186.7L269.8,196.8L240.7,198.3L237.8,186.7L218.9,179.4Z"/>
<path fill="#a3a3a3" d="M-14.5,135.8L18.9,135.8L26.2,150.3L34.9,169.2L29.1,179.4L23.3,191.0L21.8,208.5L14.5,212.8L7.3,214.3L0.0,201.2L-14.5,201.2Z"/>
<path fill="#b1b1b1" d="M-14.5,144.5L0.0,144.5L8.7,147.4L14.5,157.6L18.9,173.6L16.0,185.2L14.5,201.2L10.2,202.6L4.4,193.9L0.0,196.8L-14.5,196.8Z"/>
<path fill="#bfbfbf" d="M-14.5,157.6L0.0,157.6L5.8,164.8L8.7,175.0L4.4,183.7L0.0,188.1L-14.5,188.1Z"/>
<path fill="#a3a3a3" d="M42.2,150.3L48.0,145.9L53.8,150.3L46.5,153.2Z"/>
<path fill="#878787" d="M39.2,114.8L45.1,109.0L53.8,113.4L56.7,125.0L45.1,135.2L39.2,127.9Z"/>
<path fill="#b1b1b1" d="M80.0,75.6L94.5,66.9L101.8,53.8L113.4,40.7L133.7,30.5L157.0,33.4L167.2,29.7L186.1,37.8L189.0,43.6L203.5,50.9L215.1,65.4L207.9,100.3L194.8,101.8L186.1,116.3L181.7,125.0L174.4,135.8L157.0,150.3L143.9,164.8L145.4,175.0L129.4,177.9L123.6,170.7L116.3,167.2L110.5,169.2L101.8,177.9L90.1,176.5L87.2,164.8L82.9,150.3L78.5,135.8L82.9,116.3L80.0,87.2Z"/>
<path fill="#bfbfbf" d="M90.1,101.8L98.8,87.2L109.0,72.7L120.7,58.1L133.7,52.9L145.4,58.1L159.9,62.5L181.7,66.3L193.3,66.3L194.8,77.0L186.1,90.1L177.3,98.8L174.4,113.4L168.6,125.0L159.9,135.8L152.6,143.0L138.1,157.6L120.7,163.4L101.8,160.5L94.5,150.3L90.1,135.8Z"/>
<path fill="#cdcdcd" d="M101.8,110.5L107.6,101.8L116.3,103.2L130.8,97.4L138.1,91.6L145.4,82.9L159.9,80.8L165.7,87.2L164.3,101.8L159.9,116.3L152.6,127.9L145.4,135.8L133.7,144.5L123.6,148.3L110.5,143.0L104.7,135.8Z"/>
<path fill="#b1b1b1" d="M240.7,65.4L249.5,55.2L277.1,50.9L306.1,46.5L335.2,43.6L357.0,37.8L386.1,34.9L415.2,32.6L438.1,34.3L465.2,34.9L465.2,77.0L438.1,77.0L415.2,84.3L400.6,91.6L391.0,95.9L388.1,127.9L388.1,150.3L407.0,163.4L396.9,171.5L396.9,178.8L407.0,189.0L412.8,203.5L401.2,216.6L393.4,225.3L386.1,219.5L364.3,218.1L342.5,224.4L326.5,228.2L320.7,236.9L313.4,226.8L306.1,229.7L300.3,225.3L286.4,215.1L283.5,179.4L284.3,135.8L277.7,116.3L271.8,98.8L270.4,78.5L261.7,69.8Z"/>
<path fill="#bfbfbf" d="M272.7,66.3L280.0,55.8L306.1,52.3L335.2,48.0L357.0,46.5L375.9,53.8L400.6,43.6L419.5,46.5L432.6,54.7L400.6,72.7L375.9,65.4L373.0,80.0L371.6,90.1L378.8,101.8L383.2,116.3L382.3,135.8L383.8,150.3L395.4,163.4L391.0,169.2L392.5,177.3L404.1,189.0L409.9,203.5L399.2,213.7L393.4,220.1L386.1,214.3L364.3,212.8L342.5,220.1L325.0,223.0L320.7,228.8L313.4,221.5L306.1,224.4L300.3,220.1L288.7,211.4L287.2,179.4L290.2,135.8L290.7,130.8L284.3,116.3L278.5,98.8L278.5,75.6Z"/>
<path fill="#cdcdcd" d="M291.6,88.7L293.1,65.4L306.1,58.1L335.2,53.8L352.7,55.2L358.5,65.4L359.9,77.0L367.2,94.5L373.0,116.3L375.0,135.8L378.8,150.3L390.5,163.4L386.1,169.2L389.0,179.4L400.6,191.0L407.9,201.2L397.7,208.5L393.4,215.7L386.1,207.0L364.3,207.0L342.5,214.3L320.7,217.2L306.1,220.1L301.8,215.7L291.6,201.2L290.2,164.8L297.4,135.8L299.5,120.7L294.5,101.8Z"/>
<path fill="#dcdcdc" d="M303.2,87.2L307.6,66.9L327.9,62.5L342.5,64.0L352.7,80.0L358.5,101.8L364.3,123.6L364.0,135.8L361.4,150.3L362.8,164.8L367.2,176.5L361.4,185.2L349.8,191.0L335.2,195.4L323.6,191.0L313.4,185.2L306.1,198.3L300.3,186.7L297.4,157.6L306.7,135.8L311.1,123.6L307.6,101.8Z"/>
<path fill="#eaeaea" d="M314.9,90.1L320.7,78.5L327.9,72.7L339.6,78.5L346.8,93.0L352.7,116.3L354.7,135.8L351.2,150.3L342.5,156.1L332.3,163.4L323.6,168.6L316.3,157.6L316.3,135.8L317.8,109.0Z"/>
<path fill="#f8f8f8" d="M322.1,123.6L323.6,104.7L327.9,94.5L338.1,95.4L343.9,104.7L346.8,116.3L347.4,126.5L345.4,135.8L342.5,138.7L332.3,144.5L325.0,147.4L323.6,135.8Z"/>
</g>
</g>
</svg>
<rect class="ax" x="71.4" y="633.6" width="437.8" height="272.6"/>
<path class="tm" d="M129.8,633.6 v-4.4 M129.8,906.2 v4.4 M217.3,633.6 v-4.4 M217.3,906.2 v4.4 M304.9,633.6 v-4.4 M304.9,906.2 v4.4 M392.4,633.6 v-4.4 M392.4,906.2 v4.4 M480.0,633.6 v-4.4 M480.0,906.2 v4.4 M71.4,633.6 h-4.4 M509.2,633.6 h4.4 M71.4,677.1 h-4.4 M509.2,677.1 h4.4 M71.4,723.1 h-4.4 M509.2,723.1 h4.4 M71.4,771.6 h-4.4 M509.2,771.6 h4.4 M71.4,822.6 h-4.4 M509.2,822.6 h4.4 M71.4,877.7 h-4.4 M509.2,877.7 h4.4 "/>
<text class="tk" transform="translate(59.8 645.2) scale(0.97 1)" text-anchor="end">70°S</text>
<text class="tk" transform="translate(59.8 688.7) scale(0.97 1)" text-anchor="end">71°S</text>
<text class="tk" transform="translate(59.8 734.7) scale(0.97 1)" text-anchor="end">72°S</text>
<text class="tk" transform="translate(59.8 783.2) scale(0.97 1)" text-anchor="end">73°S</text>
<text class="tk" transform="translate(59.8 834.2) scale(0.97 1)" text-anchor="end">74°S</text>
<text class="tk" transform="translate(59.8 889.3) scale(0.97 1)" text-anchor="end">75°S</text>
<text class="tk" transform="translate(129.8 939.0) scale(0.945 1)" text-anchor="middle">126°W</text>
<text class="tk" transform="translate(217.3 939.0) scale(0.945 1)" text-anchor="middle">120°W</text>
<text class="tk" transform="translate(304.9 939.0) scale(0.945 1)" text-anchor="middle">114°W</text>
<text class="tk" transform="translate(392.4 939.0) scale(0.945 1)" text-anchor="middle">108°W</text>
<text class="tk" transform="translate(480.0 939.0) scale(0.945 1)" text-anchor="middle">102°W</text>
<text class="pl" transform="translate(89.0 896.6) scale(0.96 1)">c)</text>
<rect x="527.5" y="891.13" width="39.3" height="15.07" fill="rgb(36,0,216)"/>
<rect x="527.5" y="876.06" width="39.3" height="15.47" fill="rgb(24,28,247)"/>
<rect x="527.5" y="860.98" width="39.3" height="15.47" fill="rgb(40,87,255)"/>
<rect x="527.5" y="845.91" width="39.3" height="15.47" fill="rgb(61,135,255)"/>
<rect x="527.5" y="830.84" width="39.3" height="15.47" fill="rgb(86,176,255)"/>
<rect x="527.5" y="815.77" width="39.3" height="15.47" fill="rgb(117,211,255)"/>
<rect x="527.5" y="800.69" width="39.3" height="15.47" fill="rgb(153,234,255)"/>
<rect x="527.5" y="785.62" width="39.3" height="15.47" fill="rgb(188,249,255)"/>
<rect x="527.5" y="770.55" width="39.3" height="15.47" fill="rgb(234,255,255)"/>
<rect x="527.5" y="755.48" width="39.3" height="15.47" fill="rgb(255,255,234)"/>
<rect x="527.5" y="740.41" width="39.3" height="15.47" fill="rgb(255,241,188)"/>
<rect x="527.5" y="725.33" width="39.3" height="15.47" fill="rgb(255,214,153)"/>
<rect x="527.5" y="710.26" width="39.3" height="15.47" fill="rgb(255,172,117)"/>
<rect x="527.5" y="695.19" width="39.3" height="15.47" fill="rgb(255,120,86)"/>
<rect x="527.5" y="680.12" width="39.3" height="15.47" fill="rgb(255,61,61)"/>
<rect x="527.5" y="665.04" width="39.3" height="15.47" fill="rgb(247,39,53)"/>
<rect x="527.5" y="649.97" width="39.3" height="15.47" fill="rgb(216,21,47)"/>
<rect x="527.5" y="634.90" width="39.3" height="15.47" fill="rgb(165,0,33)"/>
<rect x="527.5" y="634.9" width="39.3" height="271.3" fill="none" stroke="#333" stroke-width="0.8"/>
<text class="tk" transform="translate(576.4 656.6) scale(0.97 1)">20</text>
<text class="tk" transform="translate(576.4 717.3) scale(0.97 1)">10</text>
<text class="tk" transform="translate(576.4 779.9) scale(0.97 1)">0</text>
<text class="tk" transform="translate(576.4 841.9) scale(0.97 1)">-10</text>
<text class="tk" transform="translate(576.4 903.6) scale(0.97 1)">-20</text>
<path class="tm" d="M566.8,646.2 h-3 M566.8,706.9 h-3 M566.8,769.5 h-3 M566.8,831.5 h-3 M566.8,893.2 h-3 "/>
<!-- panel d -->
<svg class="map" x="730.3" y="43.3" width="437.8" height="272.6" viewBox="0 0 437.8 272.6" overflow="hidden">
<g filter="url(#cm)">
<rect x="-60" y="-60" width="560" height="400" fill="#dcdcdc"/>
<g filter="url(#b1p6_e0)">
<path fill="#eaeaea" d="M248.0,-14.5L248.0,1.5L277.1,8.7L298.9,12.2L313.4,10.2L323.6,2.9L323.6,-14.5Z"/>
<path fill="#eaeaea" d="M148.3,136.6L157.0,125.0L171.5,117.7L189.0,122.1L203.5,127.9L218.9,133.7L233.5,141.6L262.5,154.7L280.0,164.8L285.8,179.4L287.2,203.5L261.7,203.5L238.4,200.6L232.6,186.1L221.0,186.1L219.2,175.0L189.0,172.1L167.2,164.8L152.6,150.3Z"/>
<path fill="#cdcdcd" d="M155.5,-14.5L155.5,1.5L162.8,14.5L164.3,26.2L157.0,43.6L154.1,55.2L164.3,66.9L164.3,75.6L154.1,87.2L145.4,101.8L138.1,116.3L130.8,136.6L127.9,135.8L138.1,157.6L159.9,176.5L189.0,180.8L189.0,203.5L-14.5,203.5L-14.5,-14.5Z"/>
<path fill="#cdcdcd" d="M218.9,29.1L189.0,49.4L174.4,64.0L171.5,77.0L181.7,90.1L196.2,104.7L219.2,116.3L233.5,127.9L250.9,136.6L268.3,135.8L284.3,150.3L298.9,172.1L309.1,193.9L319.2,211.4L321.3,261.7L436.1,261.7L465.2,261.7L465.2,2.9L438.1,4.4L393.4,10.2L364.3,16.0L349.8,23.3L335.2,33.4L320.7,43.6L317.8,55.2L306.1,58.1L291.6,52.3L280.0,42.2L262.5,33.4L240.7,27.6Z"/>
<path fill="#bfbfbf" d="M75.6,-14.5L75.6,1.5L87.2,11.6L104.7,16.9L120.7,24.7L125.0,33.4L123.6,46.5L119.2,64.0L117.7,80.0L118.6,101.8L119.2,116.3L116.3,136.6L114.8,135.8L123.6,164.8L130.8,176.5L130.8,203.5L-14.5,203.5L-14.5,-14.5Z"/>
<path fill="#bfbfbf" d="M218.9,43.6L203.5,58.1L196.2,72.7L203.5,87.2L219.2,104.7L230.6,116.3L243.6,125.0L255.3,130.8L270.4,136.6L280.0,135.8L294.5,157.6L309.1,182.3L320.7,204.1L320.7,214.3L325.0,204.1L323.6,193.9L319.2,164.8L317.8,135.8L316.3,101.8L312.0,87.2L298.9,78.5L277.1,65.4L255.3,52.3L237.8,42.2Z"/>
<path fill="#bfbfbf" d="M357.0,65.4L364.3,43.6L378.8,29.1L400.6,18.9L438.1,13.1L465.2,11.6L465.2,116.3L407.0,116.3L390.5,122.1L383.2,104.7L371.6,94.5L359.9,80.0Z"/>
<path fill="#b1b1b1" d="M-14.5,23.3L0.0,23.3L18.9,20.4L36.3,21.8L61.1,19.8L80.0,23.3L98.8,30.5L106.1,40.7L104.7,58.1L103.2,75.6L102.3,101.8L101.8,136.6L103.2,135.8L110.5,164.8L116.3,169.2L116.3,203.5L-14.5,203.5Z"/>
<path fill="#b1b1b1" d="M218.9,59.6L212.2,72.7L215.1,87.2L219.2,94.5L230.6,101.8L240.7,110.5L255.3,119.2L269.8,130.8L277.1,136.6L291.6,135.8L296.0,157.6L300.3,166.3L309.1,164.8L312.0,150.3L309.1,135.8L309.1,116.3L303.2,98.8L291.6,87.2L269.8,75.6L248.0,64.0L230.6,58.1Z"/>
<path fill="#b1b1b1" d="M375.9,66.9L383.2,49.4L397.7,36.3L415.2,29.1L438.1,26.2L465.2,24.7L465.2,116.3L407.0,116.3L392.5,110.5L383.2,94.5Z"/>
<path fill="#a3a3a3" d="M-14.5,40.7L0.0,40.7L21.8,36.3L50.9,32.6L72.7,36.3L87.2,42.2L93.0,53.8L90.1,72.7L91.6,101.8L93.0,135.8L101.8,172.1L101.8,203.5L-14.5,203.5Z"/>
<path fill="#a3a3a3" d="M229.1,87.2L230.6,78.5L240.7,75.6L262.5,85.8L277.1,95.9L287.2,104.7L296.0,116.3L301.8,136.6L300.3,150.3L296.0,147.4L293.1,135.8L280.0,136.6L277.1,120.7L262.5,110.5L240.7,100.3Z"/>
<path fill="#a3a3a3" d="M402.1,81.4L406.4,64.0L416.6,48.0L428.3,40.7L438.1,37.8L465.2,36.3L465.2,116.3L407.0,116.3Z"/>
<path fill="#959595" d="M-14.5,56.7L0.0,56.7L21.8,50.9L58.1,48.0L74.1,55.2L75.0,72.7L75.6,90.1L78.5,110.5L81.4,135.8L90.1,176.5L90.1,203.5L61.1,203.5L58.1,162.8L55.2,151.8L50.9,144.5L43.6,135.8L23.3,127.9L0.0,126.5L-14.5,126.5Z"/>
<path fill="#959595" d="M418.1,75.6L425.3,62.5L438.1,53.8L465.2,49.4L465.2,116.3L421.6,116.3Z"/>
<path fill="#878787" d="M-14.5,74.1L0.0,74.1L21.8,69.8L39.2,75.6L45.1,90.1L52.3,104.7L53.8,106.1L61.1,116.3L69.8,136.6L72.7,135.8L75.6,150.3L74.1,174.4L66.9,174.4L65.4,144.5L58.1,147.4L55.2,135.8L49.4,125.0L43.6,109.0L33.4,109.9L21.8,113.4L0.0,116.3L-14.5,116.3Z"/>
<path fill="#b1b1b1" d="M-14.5,140.1L0.0,140.1L29.1,138.7L42.2,148.9L48.0,157.6L50.9,174.4L50.9,203.5L-14.5,203.5Z"/>
<path fill="#bfbfbf" d="M-14.5,150.3L0.0,150.3L21.8,148.3L36.3,159.0L42.2,166.3L43.6,203.5L-14.5,203.5Z"/>
<path fill="#cdcdcd" d="M-14.5,160.5L0.0,160.5L18.9,161.9L29.1,172.1L32.0,179.4L33.4,203.5L-14.5,203.5Z"/>
<path fill="#dcdcdc" d="M-14.5,175.0L0.0,175.0L14.5,176.5L20.4,183.7L17.4,196.8L13.1,204.1L8.7,215.1L-14.5,215.1Z"/>
<path fill="#dcdcdc" d="M327.9,136.6L329.4,109.0L339.6,91.6L349.8,98.8L364.3,113.4L375.9,123.6L378.8,136.6L386.7,151.2L407.0,162.8L407.0,232.6L351.8,232.6L349.8,215.7L345.4,201.2L338.1,186.7L329.4,164.8L326.5,135.8Z"/>
<path fill="#eaeaea" d="M336.7,136.6L345.4,123.6L357.0,136.6L378.8,135.8L383.2,157.6L389.0,179.4L397.7,193.9L402.1,204.1L397.7,217.2L393.4,230.3L378.8,233.2L364.3,230.3L358.5,223.0L357.0,208.5L345.4,186.7L339.6,164.8Z"/>
<path fill="#f8f8f8" d="M371.6,208.5L375.9,201.2L383.2,204.1L393.4,217.2L391.9,225.9L386.1,230.3L378.8,221.5Z"/>
</g>
<g filter="url(#b2p2_e-2)">
<path fill="#808080" d="M-23.3,189.0L0.0,192.5L5.8,211.4L13.1,217.2L21.8,215.7L25.6,201.2L27.0,183.7L32.0,175.0L43.6,164.8L55.2,157.6L64.0,154.7L72.7,159.0L78.5,166.3L84.3,176.5L90.1,182.3L104.7,182.3L110.5,176.5L114.8,169.2L119.2,169.2L123.6,177.9L126.5,183.7L203.5,183.7L206.4,192.5L214.6,196.5L223.3,191.3L228.2,183.7L233.2,186.1L237.5,195.4L242.2,198.3L277.1,199.7L281.4,211.4L284.3,228.8L312.0,230.3L316.3,240.4L319.8,250.6L323.6,240.4L327.9,228.8L349.8,230.3L354.1,244.8L358.5,250.6L407.9,250.6L412.8,237.5L416.6,220.1L412.3,205.5L405.0,191.0L396.9,181.7L399.8,173.0L428.8,165.1L399.8,154.7L391.0,146.8L386.7,136.6L388.1,122.1L391.9,106.1L404.1,89.5L429.7,82.0L441.9,87.2L465.2,93.0L465.2,305.3L-23.3,305.3Z"/>
</g>
<g filter="url(#b2p2_e2)">
<path fill="#474747" d="M-23.3,189.0L0.0,192.5L5.8,211.4L13.1,217.2L21.8,215.7L25.6,201.2L27.0,183.7L32.0,175.0L43.6,164.8L55.2,157.6L64.0,154.7L72.7,159.0L78.5,166.3L84.3,176.5L90.1,182.3L104.7,182.3L110.5,176.5L114.8,169.2L119.2,169.2L123.6,177.9L126.5,183.7L203.5,183.7L206.4,192.5L214.6,196.5L223.3,191.3L228.2,183.7L233.2,186.1L237.5,195.4L242.2,198.3L277.1,199.7L281.4,211.4L284.3,228.8L312.0,230.3L316.3,240.4L319.8,250.6L323.6,240.4L327.9,228.8L349.8,230.3L354.1,244.8L358.5,250.6L407.9,250.6L412.8,237.5L416.6,220.1L412.3,205.5L405.0,191.0L396.9,181.7L399.8,173.0L428.8,165.1L399.8,154.7L391.0,146.8L386.7,136.6L388.1,122.1L391.9,106.1L404.1,89.5L429.7,82.0L441.9,87.2L465.2,93.0L465.2,305.3L-23.3,305.3Z"/>
</g>
<g filter="url(#b2p5_e5)">
<path fill="#323232" d="M-23.3,189.0L0.0,192.5L5.8,211.4L13.1,217.2L21.8,215.7L25.6,201.2L27.0,183.7L32.0,175.0L43.6,164.8L55.2,157.6L64.0,154.7L72.7,159.0L78.5,166.3L84.3,176.5L90.1,182.3L104.7,182.3L110.5,176.5L114.8,169.2L119.2,169.2L123.6,177.9L126.5,183.7L203.5,183.7L206.4,192.5L214.6,196.5L223.3,191.3L228.2,183.7L233.2,186.1L237.5,195.4L242.2,198.3L277.1,199.7L281.4,211.4L284.3,228.8L312.0,230.3L316.3,240.4L319.8,250.6L323.6,240.4L327.9,228.8L349.8,230.3L354.1,244.8L358.5,250.6L407.9,250.6L412.8,237.5L416.6,220.1L412.3,205.5L405.0,191.0L396.9,181.7L399.8,173.0L428.8,165.1L399.8,154.7L391.0,146.8L386.7,136.6L388.1,122.1L391.9,106.1L404.1,89.5L429.7,82.0L441.9,87.2L465.2,93.0L465.2,305.3L-23.3,305.3Z"/>
</g>
<g filter="url(#b3p0_e11)">
<path fill="#232323" d="M-23.3,189.0L0.0,192.5L5.8,211.4L13.1,217.2L21.8,215.7L25.6,201.2L27.0,183.7L32.0,175.0L43.6,164.8L55.2,157.6L64.0,154.7L72.7,159.0L78.5,166.3L84.3,176.5L90.1,182.3L104.7,182.3L110.5,176.5L114.8,169.2L119.2,169.2L123.6,177.9L126.5,183.7L203.5,183.7L206.4,192.5L214.6,196.5L223.3,191.3L228.2,183.7L233.2,186.1L237.5,195.4L242.2,198.3L277.1,199.7L281.4,211.4L284.3,228.8L312.0,230.3L316.3,240.4L319.8,250.6L323.6,240.4L327.9,228.8L349.8,230.3L354.1,244.8L358.5,250.6L407.9,250.6L412.8,237.5L416.6,220.1L412.3,205.5L405.0,191.0L396.9,181.7L399.8,173.0L428.8,165.1L399.8,154.7L391.0,146.8L386.7,136.6L388.1,122.1L391.9,106.1L404.1,89.5L429.7,82.0L441.9,87.2L465.2,93.0L465.2,305.3L-23.3,305.3Z"/>
</g>
<g filter="url(#b2p0_e0)">
<path fill="#151515" d="M-14.5,229.7L26.2,225.9L58.1,220.1L87.2,218.6L109.0,212.8L130.8,215.1L145.4,211.4L174.4,209.9L200.6,204.1L205.0,211.4L219.2,217.2L222.4,236.9L209.3,241.3L196.2,246.3L186.1,256.4L177.3,276.2L-14.5,276.2Z"/>
<path fill="#151515" d="M223.9,236.9L240.7,237.5L248.0,233.2L269.8,243.3L272.7,276.2L225.3,276.2Z"/>
<path fill="#151515" d="M293.1,276.2L290.2,246.3L314.0,255.8L319.8,263.1L325.6,257.3L351.8,257.3L357.6,263.1L411.4,263.1L423.0,238.4L425.9,203.5L427.4,180.3L436.1,139.6L465.2,116.3L465.2,276.2Z"/>
<path fill="#232323" d="M50.9,256.4L72.7,250.6L82.9,259.3L77.0,276.2L53.8,276.2Z"/>
</g>
</g>
</svg>
<rect class="ax" x="730.3" y="43.3" width="437.8" height="272.6"/>
<path class="tm" d="M788.7,43.3 v-4.4 M788.7,315.9 v4.4 M876.2,43.3 v-4.4 M876.2,315.9 v4.4 M963.8,43.3 v-4.4 M963.8,315.9 v4.4 M1051.3,43.3 v-4.4 M1051.3,315.9 v4.4 M1138.9,43.3 v-4.4 M1138.9,315.9 v4.4 M730.3,43.3 h-4.4 M1168.1,43.3 h4.4 M730.3,86.8 h-4.4 M1168.1,86.8 h4.4 M730.3,132.8 h-4.4 M1168.1,132.8 h4.4 M730.3,181.3 h-4.4 M1168.1,181.3 h4.4 M730.3,232.3 h-4.4 M1168.1,232.3 h4.4 M730.3,287.4 h-4.4 M1168.1,287.4 h4.4 "/>
<text class="tk" transform="translate(718.7 54.9) scale(0.97 1)" text-anchor="end">70°S</text>
<text class="tk" transform="translate(718.7 98.4) scale(0.97 1)" text-anchor="end">71°S</text>
<text class="tk" transform="translate(718.7 144.4) scale(0.97 1)" text-anchor="end">72°S</text>
<text class="tk" transform="translate(718.7 192.9) scale(0.97 1)" text-anchor="end">73°S</text>
<text class="tk" transform="translate(718.7 243.9) scale(0.97 1)" text-anchor="end">74°S</text>
<text class="tk" transform="translate(718.7 299.0) scale(0.97 1)" text-anchor="end">75°S</text>
<text class="ti" transform="translate(949.2 33.9) scale(1.085 1)" text-anchor="middle">Qlw+Qsw (W/m<tspan dy="-16.2" font-size="21.5px">2</tspan><tspan dy="16.2">)</tspan></text>
<text class="pl" transform="translate(747.9 306.3) scale(0.96 1)">d)</text>
<rect x="1186.4" y="300.83" width="39.3" height="15.07" fill="rgb(36,0,216)"/>
<rect x="1186.4" y="285.76" width="39.3" height="15.47" fill="rgb(24,28,247)"/>
<rect x="1186.4" y="270.68" width="39.3" height="15.47" fill="rgb(40,87,255)"/>
<rect x="1186.4" y="255.61" width="39.3" height="15.47" fill="rgb(61,135,255)"/>
<rect x="1186.4" y="240.54" width="39.3" height="15.47" fill="rgb(86,176,255)"/>
<rect x="1186.4" y="225.47" width="39.3" height="15.47" fill="rgb(117,211,255)"/>
<rect x="1186.4" y="210.39" width="39.3" height="15.47" fill="rgb(153,234,255)"/>
<rect x="1186.4" y="195.32" width="39.3" height="15.47" fill="rgb(188,249,255)"/>
<rect x="1186.4" y="180.25" width="39.3" height="15.47" fill="rgb(234,255,255)"/>
<rect x="1186.4" y="165.18" width="39.3" height="15.47" fill="rgb(255,255,234)"/>
<rect x="1186.4" y="150.11" width="39.3" height="15.47" fill="rgb(255,241,188)"/>
<rect x="1186.4" y="135.03" width="39.3" height="15.47" fill="rgb(255,214,153)"/>
<rect x="1186.4" y="119.96" width="39.3" height="15.47" fill="rgb(255,172,117)"/>
<rect x="1186.4" y="104.89" width="39.3" height="15.47" fill="rgb(255,120,86)"/>
<rect x="1186.4" y="89.82" width="39.3" height="15.47" fill="rgb(255,61,61)"/>
<rect x="1186.4" y="74.74" width="39.3" height="15.47" fill="rgb(247,39,53)"/>
<rect x="1186.4" y="59.67" width="39.3" height="15.47" fill="rgb(216,21,47)"/>
<rect x="1186.4" y="44.60" width="39.3" height="15.47" fill="rgb(165,0,33)"/>
<rect x="1186.4" y="44.6" width="39.3" height="271.3" fill="none" stroke="#333" stroke-width="0.8"/>
<text class="tk" transform="translate(1235.3 95.4) scale(0.97 1)">150</text>
<text class="tk" transform="translate(1235.3 161.2) scale(0.97 1)">100</text>
<text class="tk" transform="translate(1235.3 227.3) scale(0.97 1)">50</text>
<text class="tk" transform="translate(1235.3 293.4) scale(0.97 1)">0</text>
<path class="tm" d="M1225.7,85.0 h-3 M1225.7,150.8 h-3 M1225.7,216.9 h-3 M1225.7,283.0 h-3 "/>
<!-- panel e -->
<svg class="map" x="730.3" y="338.6" width="437.8" height="272.6" viewBox="0 0 437.8 272.6" overflow="hidden">
<g filter="url(#cm)">
<rect x="-60" y="-60" width="560" height="400" fill="#959595"/>
<g filter="url(#b1p6_e0)">
<path fill="#a3a3a3" d="M-14.5,20.4L0.0,20.4L29.1,18.0L58.1,21.8L75.6,29.1L90.1,32.0L101.8,46.5L109.0,66.9L123.6,80.0L138.1,78.5L167.2,72.7L181.7,65.4L203.5,53.8L218.9,51.8L255.3,50.9L291.6,50.9L320.7,52.3L357.0,50.0L378.8,45.1L400.6,36.3L422.4,29.1L438.1,27.6L465.2,26.2L465.2,-14.5L-14.5,-14.5Z"/>
<path fill="#b1b1b1" d="M-14.5,7.3L0.0,7.3L43.6,8.7L72.7,13.1L101.8,16.0L119.2,24.7L130.8,37.8L142.5,50.9L157.0,56.7L174.4,53.8L189.0,46.5L203.5,40.7L218.9,40.1L248.0,39.2L262.5,37.2L291.6,41.3L320.7,42.2L349.8,40.7L371.6,36.3L393.4,29.1L415.2,23.3L438.1,20.4L465.2,18.9L465.2,-14.5L-14.5,-14.5Z"/>
<path fill="#bfbfbf" d="M98.8,-14.5L98.8,1.5L123.6,8.7L138.1,16.0L155.5,26.2L181.7,24.7L218.9,23.3L233.5,23.8L255.3,21.8L277.1,26.2L298.9,31.4L320.7,32.0L349.8,30.5L371.6,26.2L393.4,20.4L422.4,16.0L438.1,14.5L465.2,13.1L465.2,-14.5Z"/>
<path fill="#cdcdcd" d="M148.3,-14.5L148.3,1.5L167.2,7.3L189.0,10.2L210.8,5.8L221.0,1.5L223.9,-14.5Z"/>
<path fill="#cdcdcd" d="M252.4,-14.5L252.4,1.5L277.1,8.7L298.9,16.0L320.7,20.4L342.5,21.8L364.3,18.9L393.4,13.1L422.4,8.7L438.1,7.3L465.2,5.8L465.2,-14.5Z"/>
<path fill="#dcdcdc" d="M300.3,-14.5L300.3,1.5L320.7,7.3L335.2,8.7L349.8,5.8L364.3,1.5L366.3,-14.5Z"/>
<path fill="#878787" d="M-14.5,34.9L0.0,34.9L21.8,30.5L50.9,30.5L69.8,40.7L81.4,55.2L93.0,78.5L109.0,95.9L127.9,111.9L126.5,125.0L123.6,136.6L120.7,157.0L120.7,186.1L58.1,186.1L56.7,151.2L55.2,136.6L49.4,126.5L50.9,120.7L43.6,114.8L21.8,114.8L0.0,120.7L-14.5,120.7Z"/>
<path fill="#878787" d="M218.9,68.3L248.0,66.9L277.1,65.4L298.9,61.1L327.9,61.1L346.8,68.3L352.7,75.6L354.1,94.5L352.7,116.3L351.2,136.6L355.6,157.0L355.6,203.5L355.6,232.6L306.1,232.6L306.1,203.5L309.1,186.1L302.4,162.8L294.5,142.5L293.1,136.6L284.3,126.5L277.1,116.3L262.5,110.5L255.3,103.2L233.5,93.0L218.9,88.7L209.3,78.5Z"/>
<path fill="#878787" d="M399.2,55.2L407.9,46.5L422.4,40.7L438.1,37.8L465.2,37.8L465.2,87.2L412.3,87.2L407.9,72.7Z"/>
<path fill="#787878" d="M-14.5,65.4L0.0,65.4L11.6,55.2L29.1,46.5L50.9,44.2L62.5,53.8L69.8,72.7L69.8,87.2L58.1,93.0L43.6,94.5L21.8,95.9L0.0,100.3L-14.5,100.3Z"/>
<path fill="#787878" d="M62.5,136.6L75.6,127.9L82.9,114.8L91.6,125.0L88.7,136.6L90.1,150.3L87.2,162.8L58.1,162.8L58.1,145.4Z"/>
<path fill="#787878" d="M272.7,100.3L280.0,90.1L298.9,80.0L313.4,75.6L327.9,77.0L335.2,87.2L341.0,101.8L342.5,136.6L341.0,150.3L338.1,164.8L327.9,173.6L313.4,164.8L300.3,150.3L294.5,136.6L288.7,126.5L281.4,114.8L277.1,106.1Z"/>
<path fill="#a3a3a3" d="M359.9,136.6L361.4,116.3L367.2,94.5L375.9,80.0L387.5,80.0L396.3,88.7L389.0,94.5L386.1,101.8L383.2,123.6L380.3,136.6L380.3,157.6L373.0,154.7L364.3,144.5Z"/>
<path fill="#b1b1b1" d="M370.1,136.6L371.6,116.3L377.4,106.1L381.7,106.1L381.7,123.6L375.9,136.6Z"/>
<path fill="#a3a3a3" d="M373.0,211.4L378.8,186.7L383.2,182.3L396.3,191.0L403.5,202.6L396.3,214.3L393.4,230.3L380.3,228.8Z"/>
<path fill="#a3a3a3" d="M-14.5,125.0L0.0,126.5L29.1,123.6L43.6,130.8L48.0,135.8L52.3,144.5L49.4,154.7L43.6,168.6L34.9,186.1L23.3,209.3L-14.5,209.3Z"/>
<path fill="#b1b1b1" d="M-14.5,157.0L0.0,157.0L7.3,145.4L14.5,136.6L29.1,132.3L36.3,136.6L45.1,150.3L43.6,164.8L39.2,176.5L29.1,194.8L20.4,209.3L-14.5,209.3Z"/>
<path fill="#bfbfbf" d="M2.9,172.1L11.6,154.7L24.7,144.5L36.3,147.4L39.2,159.0L36.3,173.6L26.2,183.7L16.0,201.2L11.6,204.1L4.4,191.0Z"/>
<path fill="#cdcdcd" d="M18.0,176.5L21.8,174.4L20.4,184.6L18.0,186.1Z"/>
<path fill="#a3a3a3" d="M142.5,135.8L149.7,127.9L159.9,120.7L174.4,111.9L189.0,106.1L218.9,104.7L233.5,104.7L248.0,109.0L262.5,120.7L274.2,136.6L287.8,154.1L296.5,168.6L303.8,186.1L306.1,209.3L308.2,221.0L261.7,221.0L161.4,203.5L145.4,203.5L145.4,173.6L141.0,157.6Z"/>
<path fill="#b1b1b1" d="M161.4,135.8L174.4,127.9L189.0,122.1L210.8,116.9L218.9,111.9L240.7,110.5L255.3,119.2L265.4,130.8L270.4,139.6L283.5,155.5L292.2,170.1L299.5,186.1L302.4,209.3L303.8,221.0L261.7,221.0L178.8,203.5L171.5,176.5L159.9,161.9Z"/>
<path fill="#bfbfbf" d="M178.8,135.8L189.0,129.4L206.4,125.0L218.9,119.8L240.7,116.3L255.3,125.0L262.5,136.6L268.9,143.9L281.4,157.0L289.3,171.5L296.5,186.1L299.5,209.3L300.9,221.0L261.7,221.0L189.0,203.5L189.0,176.5L178.8,157.6Z"/>
<path fill="#cdcdcd" d="M193.3,135.8L203.5,132.3L219.2,127.3L240.7,123.6L255.3,130.8L259.6,136.6L266.9,145.4L279.1,158.5L286.4,173.0L293.6,186.1L296.5,209.3L298.0,218.1L261.7,218.1L203.5,203.5L203.5,175.0L193.3,154.7Z"/>
<path fill="#dcdcdc" d="M206.4,135.8L218.9,131.4L248.0,129.4L256.7,136.6L264.6,146.8L276.2,159.9L283.5,174.4L290.7,186.1L293.6,209.3L295.1,216.6L261.7,216.6L215.1,203.5L215.1,173.6L206.4,157.6Z"/>
<path fill="#eaeaea" d="M220.4,161.9L224.7,151.8L248.0,144.5L269.8,150.3L280.0,164.8L285.8,179.4L287.2,196.8L286.4,209.3L261.7,209.3L238.4,203.5L232.6,191.9L221.0,189.0Z"/>
</g>
<g filter="url(#b2p2_e-2)">
<path fill="#808080" d="M-23.3,189.0L0.0,192.5L5.8,211.4L13.1,217.2L21.8,215.7L25.6,201.2L27.0,183.7L32.0,175.0L43.6,164.8L55.2,157.6L64.0,154.7L72.7,159.0L78.5,166.3L84.3,176.5L90.1,182.3L104.7,182.3L110.5,176.5L114.8,169.2L119.2,169.2L123.6,177.9L126.5,183.7L203.5,183.7L206.4,192.5L214.6,196.5L223.3,191.3L228.2,183.7L233.2,186.1L237.5,195.4L242.2,198.3L277.1,199.7L281.4,211.4L284.3,228.8L312.0,230.3L316.3,240.4L319.8,250.6L323.6,240.4L327.9,228.8L349.8,230.3L354.1,244.8L358.5,250.6L407.9,250.6L412.8,237.5L416.6,220.1L412.3,205.5L405.0,191.0L396.9,181.7L399.8,173.0L428.8,165.1L399.8,154.7L391.0,146.8L386.7,136.6L388.1,122.1L391.9,106.1L404.1,89.5L429.7,82.0L441.9,87.2L465.2,93.0L465.2,305.3L-23.3,305.3Z"/>
</g>
<g filter="url(#b2p2_e2)">
<path fill="#474747" d="M-23.3,189.0L0.0,192.5L5.8,211.4L13.1,217.2L21.8,215.7L25.6,201.2L27.0,183.7L32.0,175.0L43.6,164.8L55.2,157.6L64.0,154.7L72.7,159.0L78.5,166.3L84.3,176.5L90.1,182.3L104.7,182.3L110.5,176.5L114.8,169.2L119.2,169.2L123.6,177.9L126.5,183.7L203.5,183.7L206.4,192.5L214.6,196.5L223.3,191.3L228.2,183.7L233.2,186.1L237.5,195.4L242.2,198.3L277.1,199.7L281.4,211.4L284.3,228.8L312.0,230.3L316.3,240.4L319.8,250.6L323.6,240.4L327.9,228.8L349.8,230.3L354.1,244.8L358.5,250.6L407.9,250.6L412.8,237.5L416.6,220.1L412.3,205.5L405.0,191.0L396.9,181.7L399.8,173.0L428.8,165.1L399.8,154.7L391.0,146.8L386.7,136.6L388.1,122.1L391.9,106.1L404.1,89.5L429.7,82.0L441.9,87.2L465.2,93.0L465.2,305.3L-23.3,305.3Z"/>
</g>
<g filter="url(#b2p5_e5)">
<path fill="#323232" d="M-23.3,189.0L0.0,192.5L5.8,211.4L13.1,217.2L21.8,215.7L25.6,201.2L27.0,183.7L32.0,175.0L43.6,164.8L55.2,157.6L64.0,154.7L72.7,159.0L78.5,166.3L84.3,176.5L90.1,182.3L104.7,182.3L110.5,176.5L114.8,169.2L119.2,169.2L123.6,177.9L126.5,183.7L203.5,183.7L206.4,192.5L214.6,196.5L223.3,191.3L228.2,183.7L233.2,186.1L237.5,195.4L242.2,198.3L277.1,199.7L281.4,211.4L284.3,228.8L312.0,230.3L316.3,240.4L319.8,250.6L323.6,240.4L327.9,228.8L349.8,230.3L354.1,244.8L358.5,250.6L407.9,250.6L412.8,237.5L416.6,220.1L412.3,205.5L405.0,191.0L396.9,181.7L399.8,173.0L428.8,165.1L399.8,154.7L391.0,146.8L386.7,136.6L388.1,122.1L391.9,106.1L404.1,89.5L429.7,82.0L441.9,87.2L465.2,93.0L465.2,305.3L-23.3,305.3Z"/>
</g>
<g filter="url(#b3p0_e11)">
<path fill="#232323" d="M-23.3,189.0L0.0,192.5L5.8,211.4L13.1,217.2L21.8,215.7L25.6,201.2L27.0,183.7L32.0,175.0L43.6,164.8L55.2,157.6L64.0,154.7L72.7,159.0L78.5,166.3L84.3,176.5L90.1,182.3L104.7,182.3L110.5,176.5L114.8,169.2L119.2,169.2L123.6,177.9L126.5,183.7L203.5,183.7L206.4,192.5L214.6,196.5L223.3,191.3L228.2,183.7L233.2,186.1L237.5,195.4L242.2,198.3L277.1,199.7L281.4,211.4L284.3,228.8L312.0,230.3L316.3,240.4L319.8,250.6L323.6,240.4L327.9,228.8L349.8,230.3L354.1,244.8L358.5,250.6L407.9,250.6L412.8,237.5L416.6,220.1L412.3,205.5L405.0,191.0L396.9,181.7L399.8,173.0L428.8,165.1L399.8,154.7L391.0,146.8L386.7,136.6L388.1,122.1L391.9,106.1L404.1,89.5L429.7,82.0L441.9,87.2L465.2,93.0L465.2,305.3L-23.3,305.3Z"/>
</g>
<g filter="url(#b2p0_e0)">
<path fill="#151515" d="M85.8,230.3L116.3,224.4L130.8,225.0L145.4,218.6L159.9,218.6L170.1,223.0L181.7,220.1L189.0,214.3L200.6,211.4L212.2,215.7L219.2,228.8L222.4,236.9L210.8,239.0L189.0,243.3L178.8,259.3L175.9,276.2L95.9,276.2L103.2,259.3L87.2,243.3Z"/>
<path fill="#151515" d="M-14.5,240.4L40.7,237.5L46.5,243.3L36.3,259.3L-14.5,260.8Z"/>
<path fill="#151515" d="M223.9,236.9L233.5,237.5L248.0,233.2L269.8,243.3L272.7,276.2L225.3,276.2Z"/>
<path fill="#151515" d="M293.1,276.2L290.2,246.3L314.0,255.8L319.8,263.1L325.6,257.3L351.8,257.3L357.6,263.1L411.4,263.1L423.0,238.4L425.9,203.5L427.4,180.3L436.1,139.6L465.2,116.3L465.2,276.2Z"/>
</g>
</g>
</svg>
<rect class="ax" x="730.3" y="338.6" width="437.8" height="272.6"/>
<path class="tm" d="M788.7,338.6 v-4.4 M788.7,611.2 v4.4 M876.2,338.6 v-4.4 M876.2,611.2 v4.4 M963.8,338.6 v-4.4 M963.8,611.2 v4.4 M1051.3,338.6 v-4.4 M1051.3,611.2 v4.4 M1138.9,338.6 v-4.4 M1138.9,611.2 v4.4 M730.3,338.6 h-4.4 M1168.1,338.6 h4.4 M730.3,382.1 h-4.4 M1168.1,382.1 h4.4 M730.3,428.1 h-4.4 M1168.1,428.1 h4.4 M730.3,476.6 h-4.4 M1168.1,476.6 h4.4 M730.3,527.6 h-4.4 M1168.1,527.6 h4.4 M730.3,582.7 h-4.4 M1168.1,582.7 h4.4 "/>
<text class="tk" transform="translate(718.7 350.2) scale(0.97 1)" text-anchor="end">70°S</text>
<text class="tk" transform="translate(718.7 393.7) scale(0.97 1)" text-anchor="end">71°S</text>
<text class="tk" transform="translate(718.7 439.7) scale(0.97 1)" text-anchor="end">72°S</text>
<text class="tk" transform="translate(718.7 488.2) scale(0.97 1)" text-anchor="end">73°S</text>
<text class="tk" transform="translate(718.7 539.2) scale(0.97 1)" text-anchor="end">74°S</text>
<text class="tk" transform="translate(718.7 594.3) scale(0.97 1)" text-anchor="end">75°S</text>
<text class="pl" transform="translate(747.9 601.6) scale(0.96 1)">e)</text>
<rect x="1186.4" y="596.13" width="39.3" height="15.07" fill="rgb(36,0,216)"/>
<rect x="1186.4" y="581.06" width="39.3" height="15.47" fill="rgb(24,28,247)"/>
<rect x="1186.4" y="565.98" width="39.3" height="15.47" fill="rgb(40,87,255)"/>
<rect x="1186.4" y="550.91" width="39.3" height="15.47" fill="rgb(61,135,255)"/>
<rect x="1186.4" y="535.84" width="39.3" height="15.47" fill="rgb(86,176,255)"/>
<rect x="1186.4" y="520.77" width="39.3" height="15.47" fill="rgb(117,211,255)"/>
<rect x="1186.4" y="505.69" width="39.3" height="15.47" fill="rgb(153,234,255)"/>
<rect x="1186.4" y="490.62" width="39.3" height="15.47" fill="rgb(188,249,255)"/>
<rect x="1186.4" y="475.55" width="39.3" height="15.47" fill="rgb(234,255,255)"/>
<rect x="1186.4" y="460.48" width="39.3" height="15.47" fill="rgb(255,255,234)"/>
<rect x="1186.4" y="445.41" width="39.3" height="15.47" fill="rgb(255,241,188)"/>
<rect x="1186.4" y="430.33" width="39.3" height="15.47" fill="rgb(255,214,153)"/>
<rect x="1186.4" y="415.26" width="39.3" height="15.47" fill="rgb(255,172,117)"/>
<rect x="1186.4" y="400.19" width="39.3" height="15.47" fill="rgb(255,120,86)"/>
<rect x="1186.4" y="385.12" width="39.3" height="15.47" fill="rgb(255,61,61)"/>
<rect x="1186.4" y="370.04" width="39.3" height="15.47" fill="rgb(247,39,53)"/>
<rect x="1186.4" y="354.97" width="39.3" height="15.47" fill="rgb(216,21,47)"/>
<rect x="1186.4" y="339.90" width="39.3" height="15.47" fill="rgb(165,0,33)"/>
<rect x="1186.4" y="339.9" width="39.3" height="271.3" fill="none" stroke="#333" stroke-width="0.8"/>
<text class="tk" transform="translate(1235.3 390.7) scale(0.97 1)">150</text>
<text class="tk" transform="translate(1235.3 456.5) scale(0.97 1)">100</text>
<text class="tk" transform="translate(1235.3 522.6) scale(0.97 1)">50</text>
<text class="tk" transform="translate(1235.3 588.7) scale(0.97 1)">0</text>
<path class="tm" d="M1225.7,380.3 h-3 M1225.7,446.1 h-3 M1225.7,512.2 h-3 M1225.7,578.3 h-3 "/>
<!-- panel f -->
<svg class="map" x="730.3" y="633.6" width="437.8" height="272.6" viewBox="0 0 437.8 272.6" overflow="hidden">
<g filter="url(#cm)">
<rect x="-60" y="-60" width="560" height="400" fill="#959595"/>
<g filter="url(#b1p6_e0)">
<path fill="#a3a3a3" d="M-14.5,10.2L0.0,10.2L18.9,11.6L36.3,8.7L50.9,13.1L62.5,21.8L64.0,36.3L62.5,50.9L58.1,66.9L43.6,61.1L21.8,56.7L0.0,54.7L-14.5,54.7Z"/>
<path fill="#a3a3a3" d="M80.0,21.8L88.7,11.0L101.8,8.7L116.3,13.1L130.8,20.4L145.4,26.2L157.0,24.7L174.4,16.0L196.2,8.7L219.2,2.9L277.1,2.9L291.6,13.1L306.1,23.3L327.9,27.6L349.8,32.0L378.8,35.5L407.9,34.3L422.4,30.5L438.1,31.4L465.2,31.4L465.2,56.7L438.1,56.7L422.4,64.0L400.6,74.1L386.1,77.0L378.8,87.2L378.8,101.8L383.2,116.3L390.5,125.0L386.1,136.6L391.0,151.8L405.6,154.1L411.4,163.4L402.7,177.9L405.6,184.6L412.8,201.2L411.4,235.5L406.4,250.6L355.6,250.6L351.2,236.1L327.1,236.1L319.8,250.0L316.9,235.5L306.7,232.6L301.8,222.4L290.7,196.8L289.6,164.8L290.7,135.8L284.3,136.6L277.1,123.6L262.5,109.0L248.0,98.8L237.8,101.8L234.9,136.6L215.1,135.8L213.7,143.0L206.4,164.8L203.5,179.4L174.4,182.3L130.8,183.7L122.1,179.4L116.3,172.1L110.5,176.5L101.8,179.4L85.8,173.6L78.5,157.6L77.0,135.8L75.6,116.3L74.1,101.8L69.8,87.2L64.0,75.6L68.3,71.2L95.9,66.9L101.8,55.2L104.7,37.8L98.8,27.6Z"/>
<path fill="#878787" d="M317.8,-14.5L317.8,2.9L327.9,11.6L349.8,16.0L364.3,22.7L378.8,22.7L393.4,18.9L407.9,8.7L422.4,8.7L438.1,11.0L465.2,11.0L465.2,-14.5Z"/>
<path fill="#878787" d="M-14.5,85.8L0.0,85.8L21.8,90.1L43.6,95.9L58.1,106.1L65.4,119.2L66.9,135.8L68.3,150.3L75.6,164.8L84.3,177.9L101.8,183.7L110.5,180.8L116.3,175.0L122.1,183.7L138.1,188.1L203.5,183.7L209.3,191.0L215.1,198.3L221.0,196.2L226.8,180.3L231.1,157.0L233.5,136.6L248.0,119.2L262.5,127.9L269.8,136.6L288.7,135.8L287.2,164.8L288.7,196.8L300.3,223.0L306.1,234.6L317.8,237.5L319.2,253.5L326.5,237.5L349.8,237.5L354.1,253.5L407.9,253.5L413.7,237.5L415.2,201.2L407.9,183.7L405.0,177.9L413.7,163.4L407.9,153.2L393.4,150.3L386.1,135.8L391.9,125.0L387.5,116.3L387.5,101.8L390.5,94.5L405.0,93.0L409.4,85.8L429.7,77.0L438.1,75.6L465.2,75.6L465.2,290.7L-14.5,290.7Z"/>
<path fill="#787878" d="M-14.5,225.9L0.0,225.9L26.2,223.0L29.1,198.3L36.3,183.7L42.2,175.0L33.4,164.8L21.8,150.3L14.5,135.8L17.4,123.6L29.1,117.7L43.6,115.7L50.9,123.6L53.8,135.8L52.3,157.6L64.0,163.4L66.9,172.1L75.6,177.9L77.0,186.7L87.2,189.6L88.7,198.3L114.8,198.3L116.3,193.9L117.7,199.2L200.6,199.2L203.5,196.8L205.0,212.8L219.2,212.8L218.9,202.6L227.6,202.6L227.6,230.3L223.3,273.0L223.3,290.7L-14.5,290.7Z"/>
<path fill="#787878" d="M230.6,201.2L232.0,157.6L237.8,143.0L248.0,135.8L255.3,130.8L269.8,135.8L280.0,153.2L284.3,172.1L284.3,191.0L277.1,204.1L262.5,215.7L248.0,211.4L236.4,205.5Z"/>
<path fill="#787878" d="M239.3,237.5L248.0,228.8L261.1,220.1L269.8,228.8L271.3,240.4L261.1,252.1L240.7,246.3Z"/>
<path fill="#787878" d="M277.1,214.3L282.9,212.8L288.7,223.0L298.9,230.3L297.4,240.4L290.2,246.3L277.1,241.9Z"/>
<path fill="#959595" d="M-14.5,150.3L0.0,150.3L7.3,157.6L14.5,169.2L21.8,183.7L20.4,196.8L17.4,207.0L8.7,209.9L2.9,201.2L-14.5,199.7Z"/>
<path fill="#a3a3a3" d="M-14.5,174.4L0.0,176.5L2.3,186.1L0.0,191.9L-14.5,191.9Z"/>
<path fill="#b1b1b1" d="M87.2,136.6L87.2,101.8L94.5,87.2L109.0,72.7L120.7,55.2L133.7,48.0L159.9,46.5L174.4,39.2L189.0,29.1L203.5,25.6L210.8,32.0L215.1,46.5L219.2,55.2L224.7,65.4L221.8,80.0L218.9,87.2L215.1,110.5L210.8,125.0L206.4,135.8L203.5,143.0L194.8,161.9L189.0,176.5L152.6,179.4L127.9,179.4L123.6,173.6L114.8,167.8L104.7,170.7L98.8,167.8L91.6,153.2Z"/>
<path fill="#bfbfbf" d="M100.3,136.6L100.3,109.0L106.1,98.8L123.6,87.2L138.1,75.6L159.9,66.9L181.7,61.1L191.9,60.5L199.2,68.3L203.5,84.3L207.9,101.8L205.0,113.4L196.2,127.9L193.3,135.8L189.0,143.0L178.8,157.6L171.5,170.7L152.6,176.5L130.8,175.0L123.6,167.8L113.4,160.5L103.2,150.3Z"/>
<path fill="#cdcdcd" d="M114.8,136.6L114.8,125.0L123.6,110.5L138.1,98.8L145.4,90.1L159.9,82.9L171.5,80.8L181.7,85.8L186.1,101.8L187.5,111.9L183.2,125.0L178.8,135.8L171.5,145.9L159.9,154.7L145.4,157.6L130.8,154.7L120.7,144.5Z"/>
<path fill="#b1b1b1" d="M235.5,66.9L237.8,55.2L252.4,46.5L264.0,31.4L291.6,34.3L320.7,37.8L349.8,40.7L364.3,45.1L377.4,55.2L371.6,65.4L368.7,80.0L371.6,94.5L378.8,109.0L383.2,123.6L381.7,136.6L386.7,148.3L402.7,157.0L408.5,163.4L398.3,177.9L401.8,186.1L409.4,203.5L407.0,232.6L403.5,248.6L356.2,248.6L351.8,234.0L328.5,233.2L319.8,245.7L317.5,232.6L307.6,229.7L303.8,221.5L294.2,196.8L293.1,164.8L295.1,135.8L298.9,130.8L288.7,119.2L277.1,104.7L266.9,87.2L255.3,75.6Z"/>
<path fill="#bfbfbf" d="M265.4,55.2L277.1,48.0L291.6,45.1L320.7,46.5L342.5,50.0L357.0,55.2L359.9,68.3L364.3,87.2L371.6,109.0L377.4,123.6L378.8,135.8L383.2,143.0L390.5,161.9L405.0,163.4L393.4,172.1L394.8,186.7L406.4,205.5L400.6,246.3L354.1,244.8L349.8,225.9L332.3,217.2L323.6,220.1L320.7,228.8L317.8,220.1L306.1,218.6L304.7,211.4L298.9,191.0L300.3,164.8L301.8,135.8L306.1,127.9L297.4,116.3L287.2,98.8L277.1,80.0L266.9,65.4Z"/>
<path fill="#cdcdcd" d="M285.8,66.3L291.6,55.2L306.1,53.8L327.9,55.2L339.6,59.6L349.8,72.7L357.0,90.1L364.3,111.9L370.1,130.8L375.9,135.8L381.7,154.7L391.9,175.0L397.7,188.1L406.4,202.6L399.2,215.7L400.6,230.3L397.7,243.3L358.5,241.9L354.1,237.5L349.8,223.0L332.3,211.4L320.7,193.9L312.0,164.8L309.1,135.8L309.1,120.7L300.3,101.8L291.6,80.0Z"/>
<path fill="#dcdcdc" d="M303.2,66.9L320.7,64.5L330.9,68.3L342.5,81.4L349.8,101.8L357.0,123.6L367.2,135.8L371.6,143.0L378.8,157.6L389.0,176.5L393.4,191.0L400.6,202.6L396.3,215.7L397.7,230.3L393.4,239.0L364.3,237.5L357.0,234.6L352.7,221.5L342.5,212.8L326.5,193.9L314.9,164.8L312.0,135.8L317.8,116.3L312.0,94.5L304.7,77.0Z"/>
<path fill="#eaeaea" d="M323.6,98.8L327.9,94.5L338.1,95.9L343.9,104.7L349.8,120.7L352.7,135.8L357.0,150.3L364.3,164.8L371.6,177.9L370.1,193.9L364.3,208.5L349.8,204.1L342.5,193.9L332.3,176.5L323.6,157.6L320.7,135.8L322.1,116.3Z"/>
<path fill="#f8f8f8" d="M329.4,136.6L332.3,123.6L335.2,116.3L339.6,123.6L343.9,135.8L345.4,143.0L348.3,157.6L346.8,164.8L339.6,167.8L335.2,163.4L329.4,150.3Z"/>
</g>
</g>
</svg>
<rect class="ax" x="730.3" y="633.6" width="437.8" height="272.6"/>
<path class="tm" d="M788.7,633.6 v-4.4 M788.7,906.2 v4.4 M876.2,633.6 v-4.4 M876.2,906.2 v4.4 M963.8,633.6 v-4.4 M963.8,906.2 v4.4 M1051.3,633.6 v-4.4 M1051.3,906.2 v4.4 M1138.9,633.6 v-4.4 M1138.9,906.2 v4.4 M730.3,633.6 h-4.4 M1168.1,633.6 h4.4 M730.3,677.1 h-4.4 M1168.1,677.1 h4.4 M730.3,723.1 h-4.4 M1168.1,723.1 h4.4 M730.3,771.6 h-4.4 M1168.1,771.6 h4.4 M730.3,822.6 h-4.4 M1168.1,822.6 h4.4 M730.3,877.7 h-4.4 M1168.1,877.7 h4.4 "/>
<text class="tk" transform="translate(718.7 645.2) scale(0.97 1)" text-anchor="end">70°S</text>
<text class="tk" transform="translate(718.7 688.7) scale(0.97 1)" text-anchor="end">71°S</text>
<text class="tk" transform="translate(718.7 734.7) scale(0.97 1)" text-anchor="end">72°S</text>
<text class="tk" transform="translate(718.7 783.2) scale(0.97 1)" text-anchor="end">73°S</text>
<text class="tk" transform="translate(718.7 834.2) scale(0.97 1)" text-anchor="end">74°S</text>
<text class="tk" transform="translate(718.7 889.3) scale(0.97 1)" text-anchor="end">75°S</text>
<text class="tk" transform="translate(788.7 939.0) scale(0.945 1)" text-anchor="middle">126°W</text>
<text class="tk" transform="translate(876.2 939.0) scale(0.945 1)" text-anchor="middle">120°W</text>
<text class="tk" transform="translate(963.8 939.0) scale(0.945 1)" text-anchor="middle">114°W</text>
<text class="tk" transform="translate(1051.3 939.0) scale(0.945 1)" text-anchor="middle">108°W</text>
<text class="tk" transform="translate(1138.9 939.0) scale(0.945 1)" text-anchor="middle">102°W</text>
<text class="pl" transform="translate(747.9 896.6) scale(0.96 1)">f)</text>
<rect x="1186.4" y="891.13" width="39.3" height="15.07" fill="rgb(36,0,216)"/>
<rect x="1186.4" y="876.06" width="39.3" height="15.47" fill="rgb(24,28,247)"/>
<rect x="1186.4" y="860.98" width="39.3" height="15.47" fill="rgb(40,87,255)"/>
<rect x="1186.4" y="845.91" width="39.3" height="15.47" fill="rgb(61,135,255)"/>
<rect x="1186.4" y="830.84" width="39.3" height="15.47" fill="rgb(86,176,255)"/>
<rect x="1186.4" y="815.77" width="39.3" height="15.47" fill="rgb(117,211,255)"/>
<rect x="1186.4" y="800.69" width="39.3" height="15.47" fill="rgb(153,234,255)"/>
<rect x="1186.4" y="785.62" width="39.3" height="15.47" fill="rgb(188,249,255)"/>
<rect x="1186.4" y="770.55" width="39.3" height="15.47" fill="rgb(234,255,255)"/>
<rect x="1186.4" y="755.48" width="39.3" height="15.47" fill="rgb(255,255,234)"/>
<rect x="1186.4" y="740.41" width="39.3" height="15.47" fill="rgb(255,241,188)"/>
<rect x="1186.4" y="725.33" width="39.3" height="15.47" fill="rgb(255,214,153)"/>
<rect x="1186.4" y="710.26" width="39.3" height="15.47" fill="rgb(255,172,117)"/>
<rect x="1186.4" y="695.19" width="39.3" height="15.47" fill="rgb(255,120,86)"/>
<rect x="1186.4" y="680.12" width="39.3" height="15.47" fill="rgb(255,61,61)"/>
<rect x="1186.4" y="665.04" width="39.3" height="15.47" fill="rgb(247,39,53)"/>
<rect x="1186.4" y="649.97" width="39.3" height="15.47" fill="rgb(216,21,47)"/>
<rect x="1186.4" y="634.90" width="39.3" height="15.47" fill="rgb(165,0,33)"/>
<rect x="1186.4" y="634.9" width="39.3" height="271.3" fill="none" stroke="#333" stroke-width="0.8"/>
<text class="tk" transform="translate(1235.3 659.8) scale(0.97 1)">80</text>
<text class="tk" transform="translate(1235.3 720.5) scale(0.97 1)">40</text>
<text class="tk" transform="translate(1235.3 779.9) scale(0.97 1)">0</text>
<text class="tk" transform="translate(1235.3 841.3) scale(0.97 1)">-40</text>
<text class="tk" transform="translate(1235.3 902.0) scale(0.97 1)">-80</text>
<path class="tm" d="M1225.7,649.4 h-3 M1225.7,710.1 h-3 M1225.7,769.5 h-3 M1225.7,830.9 h-3 M1225.7,891.6 h-3 "/>
<!-- panel g -->
<svg class="map" x="1389.2" y="43.3" width="437.8" height="272.6" viewBox="0 0 437.8 272.6" overflow="hidden">
<g filter="url(#cm)">
<rect x="-60" y="-60" width="560" height="400" fill="#dcdcdc"/>
<g filter="url(#b2p4_e0)">
<path fill="#eaeaea" d="M162.8,-14.5L162.8,5.8L168.6,17.4L171.5,32.0L162.8,43.6L158.5,55.2L174.4,58.1L189.0,49.4L203.5,40.7L221.0,34.9L247.1,32.0L276.2,29.1L305.3,32.0L319.8,26.2L348.9,20.4L378.0,17.4L407.0,16.0L438.1,17.4L465.2,17.4L465.2,-14.5Z"/>
<path fill="#f8f8f8" d="M197.7,-14.5L197.7,2.9L203.5,8.7L215.1,10.2L223.9,5.8L232.6,1.5L241.3,2.9L261.7,5.8L290.7,5.8L314.0,2.9L316.9,-14.5Z"/>
<path fill="#cdcdcd" d="M155.5,-14.5L155.5,1.5L162.8,14.5L164.3,26.2L157.0,43.6L154.1,55.2L164.3,66.9L164.3,75.6L154.1,87.2L145.4,101.8L138.1,116.3L130.8,136.6L127.9,135.8L138.1,157.6L159.9,176.5L189.0,180.8L189.0,203.5L-14.5,203.5L-14.5,-14.5Z"/>
<path fill="#cdcdcd" d="M218.9,29.1L189.0,49.4L174.4,64.0L171.5,77.0L181.7,90.1L196.2,104.7L219.2,116.3L233.5,127.9L250.9,136.6L268.3,135.8L284.3,150.3L298.9,172.1L309.1,193.9L319.2,211.4L321.3,261.7L436.1,261.7L465.2,261.7L465.2,2.9L438.1,4.4L393.4,10.2L364.3,16.0L349.8,23.3L335.2,33.4L320.7,43.6L317.8,55.2L306.1,58.1L291.6,52.3L280.0,42.2L262.5,33.4L240.7,27.6Z"/>
<path fill="#bfbfbf" d="M75.6,-14.5L75.6,1.5L87.2,11.6L104.7,16.9L120.7,24.7L125.0,33.4L123.6,46.5L119.2,64.0L117.7,80.0L118.6,101.8L119.2,116.3L116.3,136.6L114.8,135.8L123.6,164.8L130.8,176.5L130.8,203.5L-14.5,203.5L-14.5,-14.5Z"/>
<path fill="#bfbfbf" d="M218.9,43.6L203.5,58.1L196.2,72.7L203.5,87.2L219.2,104.7L230.6,116.3L243.6,125.0L255.3,130.8L270.4,136.6L280.0,135.8L294.5,157.6L309.1,182.3L320.7,204.1L320.7,214.3L325.0,204.1L323.6,193.9L319.2,164.8L317.8,135.8L316.3,101.8L312.0,87.2L298.9,78.5L277.1,65.4L255.3,52.3L237.8,42.2Z"/>
<path fill="#bfbfbf" d="M357.0,65.4L364.3,43.6L378.8,29.1L400.6,18.9L438.1,13.1L465.2,11.6L465.2,116.3L407.0,116.3L390.5,122.1L383.2,104.7L371.6,94.5L359.9,80.0Z"/>
<path fill="#adadad" d="M-14.5,23.3L0.0,23.3L18.9,20.4L36.3,21.8L61.1,19.8L80.0,23.3L98.8,30.5L106.1,40.7L104.7,58.1L103.2,75.6L102.3,101.8L101.8,136.6L103.2,135.8L110.5,164.8L116.3,169.2L116.3,203.5L-14.5,203.5Z"/>
<path fill="#adadad" d="M218.9,59.6L212.2,72.7L215.1,87.2L219.2,94.5L230.6,101.8L240.7,110.5L255.3,119.2L269.8,130.8L277.1,136.6L291.6,135.8L296.0,157.6L300.3,166.3L309.1,164.8L312.0,150.3L309.1,135.8L309.1,116.3L303.2,98.8L291.6,87.2L269.8,75.6L248.0,64.0L230.6,58.1Z"/>
<path fill="#adadad" d="M375.9,66.9L383.2,49.4L397.7,36.3L415.2,29.1L438.1,26.2L465.2,24.7L465.2,116.3L407.0,116.3L392.5,110.5L383.2,94.5Z"/>
<path fill="#999999" d="M-14.5,40.7L0.0,40.7L21.8,36.3L50.9,32.6L72.7,36.3L87.2,42.2L93.0,53.8L90.1,72.7L91.6,101.8L93.0,135.8L101.8,172.1L101.8,203.5L-14.5,203.5Z"/>
<path fill="#999999" d="M229.1,87.2L230.6,78.5L240.7,75.6L262.5,85.8L277.1,95.9L287.2,104.7L296.0,116.3L301.8,136.6L300.3,150.3L296.0,147.4L293.1,135.8L280.0,136.6L277.1,120.7L262.5,110.5L240.7,100.3Z"/>
<path fill="#999999" d="M402.1,81.4L406.4,64.0L416.6,48.0L428.3,40.7L438.1,37.8L465.2,36.3L465.2,116.3L407.0,116.3Z"/>
<path fill="#848484" d="M-14.5,56.7L0.0,56.7L21.8,50.9L58.1,48.0L74.1,55.2L75.0,72.7L75.6,90.1L78.5,110.5L81.4,135.8L90.1,176.5L90.1,203.5L61.1,203.5L58.1,162.8L55.2,151.8L50.9,144.5L43.6,135.8L23.3,127.9L0.0,126.5L-14.5,126.5Z"/>
<path fill="#848484" d="M418.1,75.6L425.3,62.5L438.1,53.8L465.2,49.4L465.2,116.3L421.6,116.3Z"/>
<path fill="#767676" d="M-14.5,74.1L0.0,74.1L21.8,69.8L39.2,75.6L45.1,90.1L52.3,104.7L53.8,106.1L61.1,116.3L69.8,136.6L72.7,135.8L75.6,150.3L74.1,174.4L66.9,174.4L65.4,144.5L58.1,147.4L55.2,135.8L49.4,125.0L43.6,109.0L33.4,109.9L21.8,113.4L0.0,116.3L-14.5,116.3Z"/>
<path fill="#adadad" d="M-14.5,140.1L0.0,140.1L29.1,138.7L42.2,148.9L48.0,157.6L50.9,174.4L50.9,203.5L-14.5,203.5Z"/>
<path fill="#bfbfbf" d="M-14.5,150.3L0.0,150.3L21.8,148.3L36.3,159.0L42.2,166.3L43.6,203.5L-14.5,203.5Z"/>
<path fill="#cdcdcd" d="M-14.5,160.5L0.0,160.5L18.9,161.9L29.1,172.1L32.0,179.4L33.4,203.5L-14.5,203.5Z"/>
<path fill="#dcdcdc" d="M-14.5,175.0L0.0,175.0L14.5,176.5L20.4,183.7L17.4,196.8L13.1,204.1L8.7,215.1L-14.5,215.1Z"/>
<path fill="#dcdcdc" d="M327.9,136.6L329.4,109.0L339.6,91.6L349.8,98.8L364.3,113.4L375.9,123.6L378.8,136.6L386.7,151.2L407.0,162.8L407.0,232.6L351.8,232.6L349.8,215.7L345.4,201.2L338.1,186.7L329.4,164.8L326.5,135.8Z"/>
<path fill="#eaeaea" d="M336.7,136.6L345.4,123.6L357.0,136.6L378.8,135.8L383.2,157.6L389.0,179.4L397.7,193.9L402.1,204.1L397.7,217.2L393.4,230.3L378.8,233.2L364.3,230.3L358.5,223.0L357.0,208.5L345.4,186.7L339.6,164.8Z"/>
<path fill="#eaeaea" d="M138.1,127.9L145.4,113.4L157.0,98.8L165.7,95.9L177.3,101.8L189.0,116.3L203.5,125.0L221.0,130.8L232.6,139.6L231.1,151.2L215.1,157.0L197.7,158.5L186.1,161.4L162.8,157.0L148.3,145.4Z"/>
<path fill="#f8f8f8" d="M159.9,135.2L165.7,128.5L177.3,136.6L171.5,140.1Z"/>
<path fill="#6a6a6a" d="M-14.5,80.0L11.6,77.0L26.2,80.0L32.0,93.0L23.3,104.7L0.0,107.6L-14.5,107.6Z"/>
<path fill="#878787" d="M287.8,125.0L293.6,123.6L296.5,136.6L290.7,139.6Z"/>
<path fill="#c1c1c1" d="M289.3,136.6L299.5,162.8L306.7,186.1L312.5,209.3L314.0,232.6L331.4,232.6L332.3,203.5L327.9,180.3L322.1,157.0L318.4,136.6Z"/>
<path fill="#adadad" d="M295.1,136.6L303.8,162.8L311.1,186.1L316.9,209.3L318.4,232.6L327.1,232.6L327.9,203.5L323.3,180.3L317.5,157.0L313.4,136.6Z"/>
<path fill="#999999" d="M300.9,139.6L308.2,165.7L314.9,191.9L319.2,215.1L319.8,232.6L323.9,232.6L323.9,203.5L319.8,183.2L314.0,159.9L308.2,139.6Z"/>
</g>
<g filter="url(#b2p2_e-2)">
<path fill="#808080" d="M-23.3,189.0L0.0,192.5L5.8,211.4L13.1,217.2L21.8,215.7L25.6,201.2L27.0,183.7L32.0,175.0L43.6,164.8L55.2,157.6L64.0,154.7L72.7,159.0L78.5,166.3L84.3,176.5L90.1,182.3L104.7,182.3L110.5,176.5L114.8,169.2L119.2,169.2L123.6,177.9L126.5,183.7L203.5,183.7L206.4,192.5L214.6,196.5L223.3,191.3L228.2,183.7L233.2,186.1L237.5,195.4L242.2,198.3L277.1,199.7L281.4,211.4L284.3,228.8L312.0,230.3L316.3,240.4L319.8,250.6L323.6,240.4L327.9,228.8L349.8,230.3L354.1,244.8L358.5,250.6L407.9,250.6L412.8,237.5L416.6,220.1L412.3,205.5L405.0,191.0L396.9,181.7L399.8,173.0L428.8,165.1L399.8,154.7L391.0,146.8L386.7,136.6L388.1,122.1L391.9,106.1L404.1,89.5L429.7,82.0L441.9,87.2L465.2,93.0L465.2,305.3L-23.3,305.3Z"/>
</g>
<g filter="url(#b2p2_e2)">
<path fill="#474747" d="M-23.3,189.0L0.0,192.5L5.8,211.4L13.1,217.2L21.8,215.7L25.6,201.2L27.0,183.7L32.0,175.0L43.6,164.8L55.2,157.6L64.0,154.7L72.7,159.0L78.5,166.3L84.3,176.5L90.1,182.3L104.7,182.3L110.5,176.5L114.8,169.2L119.2,169.2L123.6,177.9L126.5,183.7L203.5,183.7L206.4,192.5L214.6,196.5L223.3,191.3L228.2,183.7L233.2,186.1L237.5,195.4L242.2,198.3L277.1,199.7L281.4,211.4L284.3,228.8L312.0,230.3L316.3,240.4L319.8,250.6L323.6,240.4L327.9,228.8L349.8,230.3L354.1,244.8L358.5,250.6L407.9,250.6L412.8,237.5L416.6,220.1L412.3,205.5L405.0,191.0L396.9,181.7L399.8,173.0L428.8,165.1L399.8,154.7L391.0,146.8L386.7,136.6L388.1,122.1L391.9,106.1L404.1,89.5L429.7,82.0L441.9,87.2L465.2,93.0L465.2,305.3L-23.3,305.3Z"/>
</g>
<g filter="url(#b2p5_e5)">
<path fill="#323232" d="M-23.3,189.0L0.0,192.5L5.8,211.4L13.1,217.2L21.8,215.7L25.6,201.2L27.0,183.7L32.0,175.0L43.6,164.8L55.2,157.6L64.0,154.7L72.7,159.0L78.5,166.3L84.3,176.5L90.1,182.3L104.7,182.3L110.5,176.5L114.8,169.2L119.2,169.2L123.6,177.9L126.5,183.7L203.5,183.7L206.4,192.5L214.6,196.5L223.3,191.3L228.2,183.7L233.2,186.1L237.5,195.4L242.2,198.3L277.1,199.7L281.4,211.4L284.3,228.8L312.0,230.3L316.3,240.4L319.8,250.6L323.6,240.4L327.9,228.8L349.8,230.3L354.1,244.8L358.5,250.6L407.9,250.6L412.8,237.5L416.6,220.1L412.3,205.5L405.0,191.0L396.9,181.7L399.8,173.0L428.8,165.1L399.8,154.7L391.0,146.8L386.7,136.6L388.1,122.1L391.9,106.1L404.1,89.5L429.7,82.0L441.9,87.2L465.2,93.0L465.2,305.3L-23.3,305.3Z"/>
</g>
<g filter="url(#b3p0_e12)">
<path fill="#232323" d="M-23.3,189.0L0.0,192.5L5.8,211.4L13.1,217.2L21.8,215.7L25.6,201.2L27.0,183.7L32.0,175.0L43.6,164.8L55.2,157.6L64.0,154.7L72.7,159.0L78.5,166.3L84.3,176.5L90.1,182.3L104.7,182.3L110.5,176.5L114.8,169.2L119.2,169.2L123.6,177.9L126.5,183.7L203.5,183.7L206.4,192.5L214.6,196.5L223.3,191.3L228.2,183.7L233.2,186.1L237.5,195.4L242.2,198.3L277.1,199.7L281.4,211.4L284.3,228.8L312.0,230.3L316.3,240.4L319.8,250.6L323.6,240.4L327.9,228.8L349.8,230.3L354.1,244.8L358.5,250.6L407.9,250.6L412.8,237.5L416.6,220.1L412.3,205.5L405.0,191.0L396.9,181.7L399.8,173.0L428.8,165.1L399.8,154.7L391.0,146.8L386.7,136.6L388.1,122.1L391.9,106.1L404.1,89.5L429.7,82.0L441.9,87.2L465.2,93.0L465.2,305.3L-23.3,305.3Z"/>
</g>
</g>
</svg>
<rect class="ax" x="1389.2" y="43.3" width="437.8" height="272.6"/>
<path class="tm" d="M1447.6,43.3 v-4.4 M1447.6,315.9 v4.4 M1535.1,43.3 v-4.4 M1535.1,315.9 v4.4 M1622.7,43.3 v-4.4 M1622.7,315.9 v4.4 M1710.2,43.3 v-4.4 M1710.2,315.9 v4.4 M1797.8,43.3 v-4.4 M1797.8,315.9 v4.4 M1389.2,43.3 h-4.4 M1827.0,43.3 h4.4 M1389.2,86.8 h-4.4 M1827.0,86.8 h4.4 M1389.2,132.8 h-4.4 M1827.0,132.8 h4.4 M1389.2,181.3 h-4.4 M1827.0,181.3 h4.4 M1389.2,232.3 h-4.4 M1827.0,232.3 h4.4 M1389.2,287.4 h-4.4 M1827.0,287.4 h4.4 "/>
<text class="tk" transform="translate(1377.6 54.9) scale(0.97 1)" text-anchor="end">70°S</text>
<text class="tk" transform="translate(1377.6 98.4) scale(0.97 1)" text-anchor="end">71°S</text>
<text class="tk" transform="translate(1377.6 144.4) scale(0.97 1)" text-anchor="end">72°S</text>
<text class="tk" transform="translate(1377.6 192.9) scale(0.97 1)" text-anchor="end">73°S</text>
<text class="tk" transform="translate(1377.6 243.9) scale(0.97 1)" text-anchor="end">74°S</text>
<text class="tk" transform="translate(1377.6 299.0) scale(0.97 1)" text-anchor="end">75°S</text>
<text class="ti" transform="translate(1608.1 33.9) scale(1.085 1)" text-anchor="middle">Ql+Qs+Qlw+Qsw (W/m<tspan dy="-16.2" font-size="21.5px">2</tspan><tspan dy="16.2">)</tspan></text>
<text class="pl" transform="translate(1406.8 306.3) scale(0.96 1)">g)</text>
<rect x="1845.3" y="300.83" width="39.3" height="15.07" fill="rgb(36,0,216)"/>
<rect x="1845.3" y="285.76" width="39.3" height="15.47" fill="rgb(24,28,247)"/>
<rect x="1845.3" y="270.68" width="39.3" height="15.47" fill="rgb(40,87,255)"/>
<rect x="1845.3" y="255.61" width="39.3" height="15.47" fill="rgb(61,135,255)"/>
<rect x="1845.3" y="240.54" width="39.3" height="15.47" fill="rgb(86,176,255)"/>
<rect x="1845.3" y="225.47" width="39.3" height="15.47" fill="rgb(117,211,255)"/>
<rect x="1845.3" y="210.39" width="39.3" height="15.47" fill="rgb(153,234,255)"/>
<rect x="1845.3" y="195.32" width="39.3" height="15.47" fill="rgb(188,249,255)"/>
<rect x="1845.3" y="180.25" width="39.3" height="15.47" fill="rgb(234,255,255)"/>
<rect x="1845.3" y="165.18" width="39.3" height="15.47" fill="rgb(255,255,234)"/>
<rect x="1845.3" y="150.11" width="39.3" height="15.47" fill="rgb(255,241,188)"/>
<rect x="1845.3" y="135.03" width="39.3" height="15.47" fill="rgb(255,214,153)"/>
<rect x="1845.3" y="119.96" width="39.3" height="15.47" fill="rgb(255,172,117)"/>
<rect x="1845.3" y="104.89" width="39.3" height="15.47" fill="rgb(255,120,86)"/>
<rect x="1845.3" y="89.82" width="39.3" height="15.47" fill="rgb(255,61,61)"/>
<rect x="1845.3" y="74.74" width="39.3" height="15.47" fill="rgb(247,39,53)"/>
<rect x="1845.3" y="59.67" width="39.3" height="15.47" fill="rgb(216,21,47)"/>
<rect x="1845.3" y="44.60" width="39.3" height="15.47" fill="rgb(165,0,33)"/>
<rect x="1845.3" y="44.6" width="39.3" height="271.3" fill="none" stroke="#333" stroke-width="0.8"/>
<text class="tk" transform="translate(1894.2 56.2) scale(0.97 1)">150</text>
<text class="tk" transform="translate(1894.2 134.4) scale(0.97 1)">100</text>
<text class="tk" transform="translate(1894.2 215.3) scale(0.97 1)">50</text>
<text class="tk" transform="translate(1894.2 296.2) scale(0.97 1)">0</text>
<path class="tm" d="M1884.6,45.8 h-3 M1884.6,124.0 h-3 M1884.6,204.9 h-3 M1884.6,285.8 h-3 "/>
<!-- panel h -->
<svg class="map" x="1389.2" y="338.6" width="437.8" height="272.6" viewBox="0 0 437.8 272.6" overflow="hidden">
<g filter="url(#cm)">
<rect x="-60" y="-60" width="560" height="400" fill="#787878"/>
<g filter="url(#b2p4_e0)">
<path fill="#878787" d="M-14.5,29.7L0.0,29.7L29.1,27.3L58.1,31.1L75.6,38.4L90.1,41.3L101.8,55.8L109.0,76.2L123.6,89.3L138.1,87.8L167.2,82.0L181.7,74.7L203.5,63.1L218.9,61.1L255.3,60.2L291.6,60.2L320.7,61.6L357.0,59.3L378.8,54.4L400.6,45.6L422.4,38.4L438.1,36.9L465.2,35.5L465.2,-5.2L-14.5,-5.2Z"/>
<path fill="#939393" d="M-14.5,20.4L0.0,20.4L29.1,18.0L58.1,21.8L75.6,29.1L90.1,32.0L101.8,46.5L109.0,66.9L123.6,80.0L138.1,78.5L167.2,72.7L181.7,65.4L203.5,53.8L218.9,51.8L255.3,50.9L291.6,50.9L320.7,52.3L357.0,50.0L378.8,45.1L400.6,36.3L422.4,29.1L438.1,27.6L465.2,26.2L465.2,-14.5L-14.5,-14.5Z"/>
<path fill="#aaaaaa" d="M-14.5,7.3L0.0,7.3L43.6,8.7L72.7,13.1L101.8,16.0L119.2,24.7L130.8,37.8L142.5,50.9L157.0,56.7L174.4,53.8L189.0,46.5L203.5,40.7L218.9,40.1L248.0,39.2L262.5,37.2L291.6,41.3L320.7,42.2L349.8,40.7L371.6,36.3L393.4,29.1L415.2,23.3L438.1,20.4L465.2,18.9L465.2,-14.5L-14.5,-14.5Z"/>
<path fill="#bfbfbf" d="M98.8,-14.5L98.8,1.5L123.6,8.7L138.1,16.0L155.5,26.2L181.7,24.7L218.9,23.3L233.5,23.8L255.3,21.8L277.1,26.2L298.9,31.4L320.7,32.0L349.8,30.5L371.6,26.2L393.4,20.4L422.4,16.0L438.1,14.5L465.2,13.1L465.2,-14.5Z"/>
<path fill="#d2d2d2" d="M148.3,-14.5L148.3,1.5L167.2,7.3L189.0,10.2L210.8,5.8L221.0,1.5L223.9,-14.5Z"/>
<path fill="#d2d2d2" d="M252.4,-14.5L252.4,1.5L277.1,8.7L298.9,16.0L320.7,20.4L342.5,21.8L364.3,18.9L393.4,13.1L422.4,8.7L438.1,7.3L465.2,5.8L465.2,-14.5Z"/>
<path fill="#e3e3e3" d="M300.3,-14.5L300.3,1.5L320.7,7.3L335.2,8.7L349.8,5.8L364.3,1.5L366.3,-14.5Z"/>
<path fill="#676767" d="M-14.5,34.9L0.0,34.9L21.8,30.5L50.9,30.5L69.8,40.7L81.4,55.2L93.0,78.5L109.0,95.9L127.9,111.9L126.5,125.0L123.6,136.6L120.7,157.0L120.7,186.1L58.1,186.1L56.7,151.2L55.2,136.6L49.4,126.5L50.9,120.7L43.6,114.8L21.8,114.8L0.0,120.7L-14.5,120.7Z"/>
<path fill="#6a6a6a" d="M218.9,68.3L248.0,66.9L277.1,65.4L298.9,61.1L327.9,61.1L346.8,68.3L352.7,75.6L354.1,94.5L352.7,116.3L351.2,136.6L355.6,157.0L355.6,203.5L355.6,232.6L306.1,232.6L306.1,203.5L309.1,186.1L302.4,162.8L294.5,142.5L293.1,136.6L284.3,126.5L277.1,116.3L262.5,110.5L255.3,103.2L233.5,93.0L218.9,88.7L209.3,78.5Z"/>
<path fill="#606060" d="M399.2,55.2L407.9,46.5L422.4,40.7L438.1,37.8L465.2,37.8L465.2,87.2L412.3,87.2L407.9,72.7Z"/>
<path fill="#585858" d="M-14.5,65.4L0.0,65.4L11.6,55.2L29.1,46.5L50.9,44.2L62.5,53.8L69.8,72.7L69.8,87.2L58.1,93.0L43.6,94.5L21.8,95.9L0.0,100.3L-14.5,100.3Z"/>
<path fill="#555555" d="M62.5,136.6L75.6,127.9L82.9,114.8L91.6,125.0L88.7,136.6L90.1,150.3L87.2,162.8L58.1,162.8L58.1,145.4Z"/>
<path fill="#4e4e4e" d="M272.7,100.3L280.0,90.1L298.9,80.0L313.4,75.6L327.9,77.0L335.2,87.2L341.0,101.8L342.5,136.6L341.0,150.3L338.1,164.8L327.9,173.6L313.4,164.8L300.3,150.3L294.5,136.6L288.7,126.5L281.4,114.8L277.1,106.1Z"/>
<path fill="#6a6a6a" d="M213.7,72.7L232.6,65.4L261.7,62.5L290.7,61.1L327.9,61.1L346.8,68.3L357.6,75.6L363.4,95.9L362.0,116.3L364.9,136.6L366.3,157.0L373.6,174.4L378.0,197.7L372.1,221.0L360.5,232.6L355.6,261.7L306.1,261.7L306.1,203.5L309.1,186.1L302.4,162.8L294.5,142.5L293.1,136.6L284.3,126.5L277.1,116.3L262.5,110.5L255.3,103.2L233.5,93.0L218.9,85.8Z"/>
<path fill="#5c5c5c" d="M252.9,84.3L261.7,75.6L290.7,72.7L319.8,71.2L343.1,75.6L353.2,87.2L356.2,110.5L354.7,133.7L356.2,157.0L357.6,180.3L359.1,203.5L354.7,226.8L348.9,261.7L311.1,261.7L312.5,203.5L314.0,186.1L308.2,162.8L302.4,145.4L296.5,133.7L287.8,122.1L279.1,110.5L264.6,98.8Z"/>
<path fill="#4e4e4e" d="M274.7,98.8L284.9,87.2L298.9,80.0L313.4,75.6L327.9,77.0L337.3,87.2L342.5,101.8L343.6,136.6L342.5,157.0L340.2,180.3L334.3,200.6L325.6,209.3L319.8,203.5L315.4,186.1L311.1,164.8L303.8,150.3L296.5,136.6L289.3,126.5L282.0,114.8L277.1,106.1Z"/>
<path fill="#404040" d="M308.2,116.3L316.9,110.5L328.5,113.4L332.9,130.8L330.0,151.2L322.7,159.9L314.0,157.0L308.2,139.6Z"/>
<path fill="#5c5c5c" d="M-14.5,43.6L0.0,43.6L17.4,37.8L43.6,36.3L64.0,43.6L75.6,58.1L84.3,75.6L95.9,93.0L110.5,107.6L122.1,116.3L125.0,136.6L122.1,157.0L116.3,171.5L87.2,186.1L58.1,186.1L56.7,151.2L55.2,136.6L49.4,126.5L50.9,120.7L43.6,114.8L21.8,114.8L0.0,120.7L-14.5,120.7Z"/>
<path fill="#878787" d="M127.9,81.4L151.2,75.6L168.6,87.2L165.7,110.5L157.0,130.8L151.2,151.2L139.6,162.8L127.9,157.0L125.0,130.8L127.9,110.5Z"/>
<path fill="#787878" d="M375.0,177.3L389.6,174.4L404.1,186.1L407.0,203.5L398.3,221.0L380.9,223.9L373.6,203.5Z"/>
<path fill="#878787" d="M359.9,136.6L361.4,116.3L367.2,94.5L375.9,80.0L387.5,80.0L396.3,88.7L389.0,94.5L386.1,101.8L383.2,123.6L380.3,136.6L380.3,157.6L373.0,154.7L364.3,144.5Z"/>
<path fill="#959595" d="M370.1,136.6L371.6,116.3L377.4,106.1L381.7,106.1L381.7,123.6L375.9,136.6Z"/>
<path fill="#787878" d="M373.0,211.4L378.8,186.7L383.2,182.3L396.3,191.0L403.5,202.6L396.3,214.3L393.4,230.3L380.3,228.8Z"/>
<path fill="#959595" d="M-14.5,125.0L0.0,126.5L29.1,123.6L43.6,130.8L48.0,135.8L52.3,144.5L49.4,154.7L43.6,168.6L34.9,186.1L23.3,209.3L-14.5,209.3Z"/>
<path fill="#aaaaaa" d="M-14.5,157.0L0.0,157.0L7.3,145.4L14.5,136.6L29.1,132.3L36.3,136.6L45.1,150.3L43.6,164.8L39.2,176.5L29.1,194.8L20.4,209.3L-14.5,209.3Z"/>
<path fill="#bfbfbf" d="M2.9,172.1L11.6,154.7L24.7,144.5L36.3,147.4L39.2,159.0L36.3,173.6L26.2,183.7L16.0,201.2L11.6,204.1L4.4,191.0Z"/>
<path fill="#d4d4d4" d="M18.0,176.5L21.8,174.4L20.4,184.6L18.0,186.1Z"/>
<path fill="#8b8b8b" d="M142.5,135.8L149.7,127.9L159.9,120.7L174.4,111.9L189.0,106.1L218.9,104.7L233.5,104.7L248.0,109.0L262.5,120.7L274.2,136.6L287.8,154.1L296.5,168.6L303.8,186.1L306.1,209.3L308.2,221.0L261.7,221.0L161.4,203.5L145.4,203.5L145.4,173.6L141.0,157.6Z"/>
<path fill="#9c9c9c" d="M161.4,135.8L174.4,127.9L189.0,122.1L210.8,116.9L218.9,111.9L240.7,110.5L255.3,119.2L265.4,130.8L270.4,139.6L283.5,155.5L292.2,170.1L299.5,186.1L302.4,209.3L303.8,221.0L261.7,221.0L178.8,203.5L171.5,176.5L159.9,161.9Z"/>
<path fill="#aeaeae" d="M178.8,135.8L189.0,129.4L206.4,125.0L218.9,119.8L240.7,116.3L255.3,125.0L262.5,136.6L268.9,143.9L281.4,157.0L289.3,171.5L296.5,186.1L299.5,209.3L300.9,221.0L261.7,221.0L189.0,203.5L189.0,176.5L178.8,157.6Z"/>
<path fill="#bfbfbf" d="M193.3,135.8L203.5,132.3L219.2,127.3L240.7,123.6L255.3,130.8L259.6,136.6L266.9,145.4L279.1,158.5L286.4,173.0L293.6,186.1L296.5,209.3L298.0,218.1L261.7,218.1L203.5,203.5L203.5,175.0L193.3,154.7Z"/>
<path fill="#cdcdcd" d="M206.4,135.8L218.9,131.4L248.0,129.4L256.7,136.6L264.6,146.8L276.2,159.9L283.5,174.4L290.7,186.1L293.6,209.3L295.1,216.6L261.7,216.6L215.1,203.5L215.1,173.6L206.4,157.6Z"/>
<path fill="#dcdcdc" d="M220.4,161.9L224.7,151.8L248.0,144.5L269.8,150.3L280.0,164.8L285.8,179.4L287.2,196.8L286.4,209.3L261.7,209.3L238.4,203.5L232.6,191.9L221.0,189.0Z"/>
</g>
<g filter="url(#b2p2_e-2)">
<path fill="#808080" d="M-23.3,189.0L0.0,192.5L5.8,211.4L13.1,217.2L21.8,215.7L25.6,201.2L27.0,183.7L32.0,175.0L43.6,164.8L55.2,157.6L64.0,154.7L72.7,159.0L78.5,166.3L84.3,176.5L90.1,182.3L104.7,182.3L110.5,176.5L114.8,169.2L119.2,169.2L123.6,177.9L126.5,183.7L203.5,183.7L206.4,192.5L214.6,196.5L223.3,191.3L228.2,183.7L233.2,186.1L237.5,195.4L242.2,198.3L277.1,199.7L281.4,211.4L284.3,228.8L312.0,230.3L316.3,240.4L319.8,250.6L323.6,240.4L327.9,228.8L349.8,230.3L354.1,244.8L358.5,250.6L407.9,250.6L412.8,237.5L416.6,220.1L412.3,205.5L405.0,191.0L396.9,181.7L399.8,173.0L428.8,165.1L399.8,154.7L391.0,146.8L386.7,136.6L388.1,122.1L391.9,106.1L404.1,89.5L429.7,82.0L441.9,87.2L465.2,93.0L465.2,305.3L-23.3,305.3Z"/>
</g>
<g filter="url(#b2p2_e2)">
<path fill="#474747" d="M-23.3,189.0L0.0,192.5L5.8,211.4L13.1,217.2L21.8,215.7L25.6,201.2L27.0,183.7L32.0,175.0L43.6,164.8L55.2,157.6L64.0,154.7L72.7,159.0L78.5,166.3L84.3,176.5L90.1,182.3L104.7,182.3L110.5,176.5L114.8,169.2L119.2,169.2L123.6,177.9L126.5,183.7L203.5,183.7L206.4,192.5L214.6,196.5L223.3,191.3L228.2,183.7L233.2,186.1L237.5,195.4L242.2,198.3L277.1,199.7L281.4,211.4L284.3,228.8L312.0,230.3L316.3,240.4L319.8,250.6L323.6,240.4L327.9,228.8L349.8,230.3L354.1,244.8L358.5,250.6L407.9,250.6L412.8,237.5L416.6,220.1L412.3,205.5L405.0,191.0L396.9,181.7L399.8,173.0L428.8,165.1L399.8,154.7L391.0,146.8L386.7,136.6L388.1,122.1L391.9,106.1L404.1,89.5L429.7,82.0L441.9,87.2L465.2,93.0L465.2,305.3L-23.3,305.3Z"/>
</g>
<g filter="url(#b2p5_e5)">
<path fill="#323232" d="M-23.3,189.0L0.0,192.5L5.8,211.4L13.1,217.2L21.8,215.7L25.6,201.2L27.0,183.7L32.0,175.0L43.6,164.8L55.2,157.6L64.0,154.7L72.7,159.0L78.5,166.3L84.3,176.5L90.1,182.3L104.7,182.3L110.5,176.5L114.8,169.2L119.2,169.2L123.6,177.9L126.5,183.7L203.5,183.7L206.4,192.5L214.6,196.5L223.3,191.3L228.2,183.7L233.2,186.1L237.5,195.4L242.2,198.3L277.1,199.7L281.4,211.4L284.3,228.8L312.0,230.3L316.3,240.4L319.8,250.6L323.6,240.4L327.9,228.8L349.8,230.3L354.1,244.8L358.5,250.6L407.9,250.6L412.8,237.5L416.6,220.1L412.3,205.5L405.0,191.0L396.9,181.7L399.8,173.0L428.8,165.1L399.8,154.7L391.0,146.8L386.7,136.6L388.1,122.1L391.9,106.1L404.1,89.5L429.7,82.0L441.9,87.2L465.2,93.0L465.2,305.3L-23.3,305.3Z"/>
</g>
<g filter="url(#b3p0_e13)">
<path fill="#232323" d="M-23.3,189.0L0.0,192.5L5.8,211.4L13.1,217.2L21.8,215.7L25.6,201.2L27.0,183.7L32.0,175.0L43.6,164.8L55.2,157.6L64.0,154.7L72.7,159.0L78.5,166.3L84.3,176.5L90.1,182.3L104.7,182.3L110.5,176.5L114.8,169.2L119.2,169.2L123.6,177.9L126.5,183.7L203.5,183.7L206.4,192.5L214.6,196.5L223.3,191.3L228.2,183.7L233.2,186.1L237.5,195.4L242.2,198.3L277.1,199.7L281.4,211.4L284.3,228.8L312.0,230.3L316.3,240.4L319.8,250.6L323.6,240.4L327.9,228.8L349.8,230.3L354.1,244.8L358.5,250.6L407.9,250.6L412.8,237.5L416.6,220.1L412.3,205.5L405.0,191.0L396.9,181.7L399.8,173.0L428.8,165.1L399.8,154.7L391.0,146.8L386.7,136.6L388.1,122.1L391.9,106.1L404.1,89.5L429.7,82.0L441.9,87.2L465.2,93.0L465.2,305.3L-23.3,305.3Z"/>
</g>
</g>
</svg>
<rect class="ax" x="1389.2" y="338.6" width="437.8" height="272.6"/>
<path class="tm" d="M1447.6,338.6 v-4.4 M1447.6,611.2 v4.4 M1535.1,338.6 v-4.4 M1535.1,611.2 v4.4 M1622.7,338.6 v-4.4 M1622.7,611.2 v4.4 M1710.2,338.6 v-4.4 M1710.2,611.2 v4.4 M1797.8,338.6 v-4.4 M1797.8,611.2 v4.4 M1389.2,338.6 h-4.4 M1827.0,338.6 h4.4 M1389.2,382.1 h-4.4 M1827.0,382.1 h4.4 M1389.2,428.1 h-4.4 M1827.0,428.1 h4.4 M1389.2,476.6 h-4.4 M1827.0,476.6 h4.4 M1389.2,527.6 h-4.4 M1827.0,527.6 h4.4 M1389.2,582.7 h-4.4 M1827.0,582.7 h4.4 "/>
<text class="tk" transform="translate(1377.6 350.2) scale(0.97 1)" text-anchor="end">70°S</text>
<text class="tk" transform="translate(1377.6 393.7) scale(0.97 1)" text-anchor="end">71°S</text>
<text class="tk" transform="translate(1377.6 439.7) scale(0.97 1)" text-anchor="end">72°S</text>
<text class="tk" transform="translate(1377.6 488.2) scale(0.97 1)" text-anchor="end">73°S</text>
<text class="tk" transform="translate(1377.6 539.2) scale(0.97 1)" text-anchor="end">74°S</text>
<text class="tk" transform="translate(1377.6 594.3) scale(0.97 1)" text-anchor="end">75°S</text>
<text class="pl" transform="translate(1406.8 601.6) scale(0.96 1)">h)</text>
<rect x="1845.3" y="596.13" width="39.3" height="15.07" fill="rgb(36,0,216)"/>
<rect x="1845.3" y="581.06" width="39.3" height="15.47" fill="rgb(24,28,247)"/>
<rect x="1845.3" y="565.98" width="39.3" height="15.47" fill="rgb(40,87,255)"/>
<rect x="1845.3" y="550.91" width="39.3" height="15.47" fill="rgb(61,135,255)"/>
<rect x="1845.3" y="535.84" width="39.3" height="15.47" fill="rgb(86,176,255)"/>
<rect x="1845.3" y="520.77" width="39.3" height="15.47" fill="rgb(117,211,255)"/>
<rect x="1845.3" y="505.69" width="39.3" height="15.47" fill="rgb(153,234,255)"/>
<rect x="1845.3" y="490.62" width="39.3" height="15.47" fill="rgb(188,249,255)"/>
<rect x="1845.3" y="475.55" width="39.3" height="15.47" fill="rgb(234,255,255)"/>
<rect x="1845.3" y="460.48" width="39.3" height="15.47" fill="rgb(255,255,234)"/>
<rect x="1845.3" y="445.41" width="39.3" height="15.47" fill="rgb(255,241,188)"/>
<rect x="1845.3" y="430.33" width="39.3" height="15.47" fill="rgb(255,214,153)"/>
<rect x="1845.3" y="415.26" width="39.3" height="15.47" fill="rgb(255,172,117)"/>
<rect x="1845.3" y="400.19" width="39.3" height="15.47" fill="rgb(255,120,86)"/>
<rect x="1845.3" y="385.12" width="39.3" height="15.47" fill="rgb(255,61,61)"/>
<rect x="1845.3" y="370.04" width="39.3" height="15.47" fill="rgb(247,39,53)"/>
<rect x="1845.3" y="354.97" width="39.3" height="15.47" fill="rgb(216,21,47)"/>
<rect x="1845.3" y="339.90" width="39.3" height="15.47" fill="rgb(165,0,33)"/>
<rect x="1845.3" y="339.9" width="39.3" height="271.3" fill="none" stroke="#333" stroke-width="0.8"/>
<text class="tk" transform="translate(1894.2 351.5) scale(0.97 1)">150</text>
<text class="tk" transform="translate(1894.2 429.7) scale(0.97 1)">100</text>
<text class="tk" transform="translate(1894.2 510.6) scale(0.97 1)">50</text>
<text class="tk" transform="translate(1894.2 591.5) scale(0.97 1)">0</text>
<path class="tm" d="M1884.6,341.1 h-3 M1884.6,419.3 h-3 M1884.6,500.2 h-3 M1884.6,581.1 h-3 "/>
<!-- panel i -->
<svg class="map" x="1389.2" y="633.6" width="437.8" height="272.6" viewBox="0 0 437.8 272.6" overflow="hidden">
<g filter="url(#cm)">
<rect x="-60" y="-60" width="560" height="400" fill="#959595"/>
<g filter="url(#b1p6_e0)">
<path fill="#a3a3a3" d="M-14.5,10.2L0.0,10.2L18.9,11.6L36.3,8.7L50.9,13.1L62.5,21.8L64.0,36.3L62.5,50.9L58.1,66.9L43.6,61.1L21.8,56.7L0.0,54.7L-14.5,54.7Z"/>
<path fill="#a3a3a3" d="M80.0,21.8L88.7,11.0L101.8,8.7L116.3,13.1L130.8,20.4L145.4,26.2L157.0,24.7L174.4,16.0L196.2,8.7L219.2,2.9L277.1,2.9L291.6,13.1L306.1,23.3L327.9,27.6L349.8,32.0L378.8,35.5L407.9,34.3L422.4,30.5L438.1,31.4L465.2,31.4L465.2,56.7L438.1,56.7L422.4,64.0L400.6,74.1L386.1,77.0L378.8,87.2L378.8,101.8L383.2,116.3L390.5,125.0L386.1,136.6L391.0,151.8L405.6,154.1L411.4,163.4L402.7,177.9L405.6,184.6L412.8,201.2L411.4,235.5L406.4,250.6L355.6,250.6L351.2,236.1L327.1,236.1L319.8,250.0L316.9,235.5L306.7,232.6L301.8,222.4L290.7,196.8L289.6,164.8L290.7,135.8L284.3,136.6L277.1,123.6L262.5,109.0L248.0,98.8L237.8,101.8L234.9,136.6L215.1,135.8L213.7,143.0L206.4,164.8L203.5,179.4L174.4,182.3L130.8,183.7L122.1,179.4L116.3,172.1L110.5,176.5L101.8,179.4L85.8,173.6L78.5,157.6L77.0,135.8L75.6,116.3L74.1,101.8L69.8,87.2L64.0,75.6L68.3,71.2L95.9,66.9L101.8,55.2L104.7,37.8L98.8,27.6Z"/>
<path fill="#878787" d="M317.8,-14.5L317.8,2.9L327.9,11.6L349.8,16.0L364.3,22.7L378.8,22.7L393.4,18.9L407.9,8.7L422.4,8.7L438.1,11.0L465.2,11.0L465.2,-14.5Z"/>
<path fill="#878787" d="M-14.5,85.8L0.0,85.8L21.8,90.1L43.6,95.9L58.1,106.1L65.4,119.2L66.9,135.8L68.3,150.3L75.6,164.8L84.3,177.9L101.8,183.7L110.5,180.8L116.3,175.0L122.1,183.7L138.1,188.1L203.5,183.7L209.3,191.0L215.1,198.3L221.0,196.2L226.8,180.3L231.1,157.0L233.5,136.6L248.0,119.2L262.5,127.9L269.8,136.6L288.7,135.8L287.2,164.8L288.7,196.8L300.3,223.0L306.1,234.6L317.8,237.5L319.2,253.5L326.5,237.5L349.8,237.5L354.1,253.5L407.9,253.5L413.7,237.5L415.2,201.2L407.9,183.7L405.0,177.9L413.7,163.4L407.9,153.2L393.4,150.3L386.1,135.8L391.9,125.0L387.5,116.3L387.5,101.8L390.5,94.5L405.0,93.0L409.4,85.8L429.7,77.0L438.1,75.6L465.2,75.6L465.2,290.7L-14.5,290.7Z"/>
<path fill="#787878" d="M-14.5,225.9L0.0,225.9L26.2,223.0L29.1,198.3L36.3,183.7L42.2,175.0L33.4,164.8L24.7,150.3L26.2,133.7L32.0,123.6L43.6,120.7L49.4,127.9L48.0,139.6L40.7,157.0L52.3,162.8L64.0,163.4L66.9,172.1L75.6,177.9L77.0,186.7L87.2,189.6L88.7,198.3L114.8,198.3L116.3,193.9L117.7,199.2L200.6,199.2L203.5,196.8L205.0,203.5L221.0,203.5L232.6,200.6L234.0,162.8L236.9,145.4L248.0,136.6L261.7,138.1L271.8,151.2L274.7,174.4L273.3,197.7L270.4,209.3L279.1,221.0L274.7,244.2L271.8,273.0L271.8,290.7L-14.5,290.7Z"/>
<path fill="#878787" d="M235.5,186.1L250.0,181.7L258.8,197.7L261.7,209.3L250.0,212.2L236.9,203.5Z"/>
<path fill="#959595" d="M-14.5,150.3L0.0,150.3L7.3,157.6L14.5,169.2L21.8,183.7L20.4,196.8L17.4,207.0L8.7,209.9L2.9,201.2L-14.5,199.7Z"/>
<path fill="#a3a3a3" d="M-14.5,174.4L0.0,176.5L2.3,186.1L0.0,191.9L-14.5,191.9Z"/>
<path fill="#b1b1b1" d="M87.2,136.6L87.2,101.8L94.5,87.2L109.0,72.7L120.7,55.2L133.7,48.0L159.9,46.5L174.4,39.2L189.0,29.1L203.5,25.6L210.8,32.0L215.1,46.5L219.2,55.2L224.7,65.4L221.8,80.0L218.9,87.2L215.1,110.5L210.8,125.0L206.4,135.8L203.5,143.0L194.8,161.9L189.0,176.5L152.6,179.4L127.9,179.4L123.6,173.6L114.8,167.8L104.7,170.7L98.8,167.8L91.6,153.2Z"/>
<path fill="#bfbfbf" d="M100.3,136.6L100.3,109.0L106.1,98.8L123.6,87.2L138.1,75.6L159.9,66.9L181.7,61.1L191.9,60.5L199.2,68.3L203.5,84.3L207.9,101.8L205.0,113.4L196.2,127.9L193.3,135.8L189.0,143.0L178.8,157.6L171.5,170.7L152.6,176.5L130.8,175.0L123.6,167.8L113.4,160.5L103.2,150.3Z"/>
<path fill="#cdcdcd" d="M114.8,136.6L114.8,125.0L123.6,110.5L138.1,98.8L145.4,90.1L159.9,82.9L171.5,80.8L181.7,85.8L186.1,101.8L187.5,111.9L183.2,125.0L178.8,135.8L171.5,145.9L159.9,154.7L145.4,157.6L130.8,154.7L120.7,144.5Z"/>
<path fill="#b1b1b1" d="M235.5,66.9L237.8,55.2L252.4,46.5L264.0,31.4L291.6,34.3L320.7,37.8L349.8,40.7L364.3,45.1L377.4,55.2L371.6,65.4L368.7,80.0L371.6,94.5L378.8,109.0L383.2,123.6L381.7,136.6L386.7,148.3L402.7,157.0L408.5,163.4L398.3,177.9L401.8,186.1L409.4,203.5L407.0,232.6L403.5,248.6L356.2,248.6L351.8,234.0L328.5,233.2L319.8,245.7L317.5,232.6L307.6,229.7L303.8,221.5L294.2,196.8L293.1,164.8L295.1,135.8L298.9,130.8L288.7,119.2L277.1,104.7L266.9,87.2L255.3,75.6Z"/>
<path fill="#bfbfbf" d="M265.4,55.2L277.1,48.0L291.6,45.1L320.7,46.5L342.5,50.0L357.0,55.2L359.9,68.3L364.3,87.2L371.6,109.0L377.4,123.6L378.8,135.8L383.2,143.0L390.5,161.9L405.0,163.4L393.4,172.1L394.8,186.7L406.4,205.5L400.6,246.3L354.1,244.8L349.8,225.9L332.3,217.2L323.6,220.1L320.7,228.8L317.8,220.1L306.1,218.6L304.7,211.4L298.9,191.0L300.3,164.8L301.8,135.8L306.1,127.9L297.4,116.3L287.2,98.8L277.1,80.0L266.9,65.4Z"/>
<path fill="#cdcdcd" d="M285.8,66.3L291.6,55.2L306.1,53.8L327.9,55.2L339.6,59.6L349.8,72.7L357.0,90.1L364.3,111.9L370.1,130.8L375.9,135.8L381.7,154.7L391.9,175.0L397.7,188.1L406.4,202.6L399.2,215.7L400.6,230.3L397.7,243.3L358.5,241.9L354.1,237.5L349.8,223.0L332.3,211.4L320.7,193.9L312.0,164.8L309.1,135.8L309.1,120.7L300.3,101.8L291.6,80.0Z"/>
<path fill="#dcdcdc" d="M303.2,66.9L320.7,64.5L330.9,68.3L342.5,81.4L349.8,101.8L357.0,123.6L367.2,135.8L371.6,143.0L378.8,157.6L389.0,176.5L393.4,191.0L400.6,202.6L396.3,215.7L397.7,230.3L393.4,239.0L364.3,237.5L357.0,234.6L352.7,221.5L342.5,212.8L326.5,193.9L314.9,164.8L312.0,135.8L317.8,116.3L312.0,94.5L304.7,77.0Z"/>
<path fill="#eaeaea" d="M323.6,98.8L327.9,94.5L338.1,95.9L343.9,104.7L349.8,120.7L352.7,135.8L357.0,150.3L364.3,164.8L371.6,177.9L370.1,193.9L364.3,208.5L349.8,204.1L342.5,193.9L332.3,176.5L323.6,157.6L320.7,135.8L322.1,116.3Z"/>
<path fill="#f8f8f8" d="M329.4,136.6L332.3,123.6L335.2,116.3L339.6,123.6L343.9,135.8L345.4,143.0L348.3,157.6L346.8,164.8L339.6,167.8L335.2,163.4L329.4,150.3Z"/>
<path fill="#a3a3a3" d="M55.2,11.6L87.2,10.2L101.8,27.6L104.7,37.8L101.8,55.2L95.9,68.3L68.3,72.7L58.1,67.5L64.0,36.3L62.5,21.8Z"/>
<path fill="#b1b1b1" d="M-14.5,29.1L0.0,29.1L17.4,30.5L29.1,21.8L40.7,23.3L43.6,32.0L40.7,40.7L29.1,43.6L0.0,39.2L-14.5,39.2Z"/>
<path fill="#959595" d="M68.3,43.6L72.7,30.5L84.3,26.2L97.4,32.0L101.8,43.6L97.4,58.1L84.3,64.0L71.2,59.6Z"/>
<path fill="#f8f8f8" d="M326.5,136.6L327.9,116.3L332.3,107.6L339.6,110.5L345.4,125.0L346.8,135.8L347.4,151.2L343.1,164.3L337.3,165.7L331.4,157.0L327.9,145.4Z"/>
</g>
</g>
</svg>
<rect class="ax" x="1389.2" y="633.6" width="437.8" height="272.6"/>
<path class="tm" d="M1447.6,633.6 v-4.4 M1447.6,906.2 v4.4 M1535.1,633.6 v-4.4 M1535.1,906.2 v4.4 M1622.7,633.6 v-4.4 M1622.7,906.2 v4.4 M1710.2,633.6 v-4.4 M1710.2,906.2 v4.4 M1797.8,633.6 v-4.4 M1797.8,906.2 v4.4 M1389.2,633.6 h-4.4 M1827.0,633.6 h4.4 M1389.2,677.1 h-4.4 M1827.0,677.1 h4.4 M1389.2,723.1 h-4.4 M1827.0,723.1 h4.4 M1389.2,771.6 h-4.4 M1827.0,771.6 h4.4 M1389.2,822.6 h-4.4 M1827.0,822.6 h4.4 M1389.2,877.7 h-4.4 M1827.0,877.7 h4.4 "/>
<text class="tk" transform="translate(1377.6 645.2) scale(0.97 1)" text-anchor="end">70°S</text>
<text class="tk" transform="translate(1377.6 688.7) scale(0.97 1)" text-anchor="end">71°S</text>
<text class="tk" transform="translate(1377.6 734.7) scale(0.97 1)" text-anchor="end">72°S</text>
<text class="tk" transform="translate(1377.6 783.2) scale(0.97 1)" text-anchor="end">73°S</text>
<text class="tk" transform="translate(1377.6 834.2) scale(0.97 1)" text-anchor="end">74°S</text>
<text class="tk" transform="translate(1377.6 889.3) scale(0.97 1)" text-anchor="end">75°S</text>
<text class="tk" transform="translate(1447.6 939.0) scale(0.945 1)" text-anchor="middle">126°W</text>
<text class="tk" transform="translate(1535.1 939.0) scale(0.945 1)" text-anchor="middle">120°W</text>
<text class="tk" transform="translate(1622.7 939.0) scale(0.945 1)" text-anchor="middle">114°W</text>
<text class="tk" transform="translate(1710.2 939.0) scale(0.945 1)" text-anchor="middle">108°W</text>
<text class="tk" transform="translate(1797.8 939.0) scale(0.945 1)" text-anchor="middle">102°W</text>
<text class="pl" transform="translate(1406.8 896.6) scale(0.96 1)">i)</text>
<rect x="1845.3" y="891.13" width="39.3" height="15.07" fill="rgb(36,0,216)"/>
<rect x="1845.3" y="876.06" width="39.3" height="15.47" fill="rgb(24,28,247)"/>
<rect x="1845.3" y="860.98" width="39.3" height="15.47" fill="rgb(40,87,255)"/>
<rect x="1845.3" y="845.91" width="39.3" height="15.47" fill="rgb(61,135,255)"/>
<rect x="1845.3" y="830.84" width="39.3" height="15.47" fill="rgb(86,176,255)"/>
<rect x="1845.3" y="815.77" width="39.3" height="15.47" fill="rgb(117,211,255)"/>
<rect x="1845.3" y="800.69" width="39.3" height="15.47" fill="rgb(153,234,255)"/>
<rect x="1845.3" y="785.62" width="39.3" height="15.47" fill="rgb(188,249,255)"/>
<rect x="1845.3" y="770.55" width="39.3" height="15.47" fill="rgb(234,255,255)"/>
<rect x="1845.3" y="755.48" width="39.3" height="15.47" fill="rgb(255,255,234)"/>
<rect x="1845.3" y="740.41" width="39.3" height="15.47" fill="rgb(255,241,188)"/>
<rect x="1845.3" y="725.33" width="39.3" height="15.47" fill="rgb(255,214,153)"/>
<rect x="1845.3" y="710.26" width="39.3" height="15.47" fill="rgb(255,172,117)"/>
<rect x="1845.3" y="695.19" width="39.3" height="15.47" fill="rgb(255,120,86)"/>
<rect x="1845.3" y="680.12" width="39.3" height="15.47" fill="rgb(255,61,61)"/>
<rect x="1845.3" y="665.04" width="39.3" height="15.47" fill="rgb(247,39,53)"/>
<rect x="1845.3" y="649.97" width="39.3" height="15.47" fill="rgb(216,21,47)"/>
<rect x="1845.3" y="634.90" width="39.3" height="15.47" fill="rgb(165,0,33)"/>
<rect x="1845.3" y="634.9" width="39.3" height="271.3" fill="none" stroke="#333" stroke-width="0.8"/>
<text class="tk" transform="translate(1894.2 656.1) scale(0.97 1)">100</text>
<text class="tk" transform="translate(1894.2 718.8) scale(0.97 1)">50</text>
<text class="tk" transform="translate(1894.2 781.2) scale(0.97 1)">0</text>
<text class="tk" transform="translate(1894.2 843.2) scale(0.97 1)">-50</text>
<text class="tk" transform="translate(1894.2 905.0) scale(0.97 1)">-100</text>
<path class="tm" d="M1884.6,645.7 h-3 M1884.6,708.4 h-3 M1884.6,770.8 h-3 M1884.6,832.8 h-3 M1884.6,894.6 h-3 "/>
</svg>
</body></html>
